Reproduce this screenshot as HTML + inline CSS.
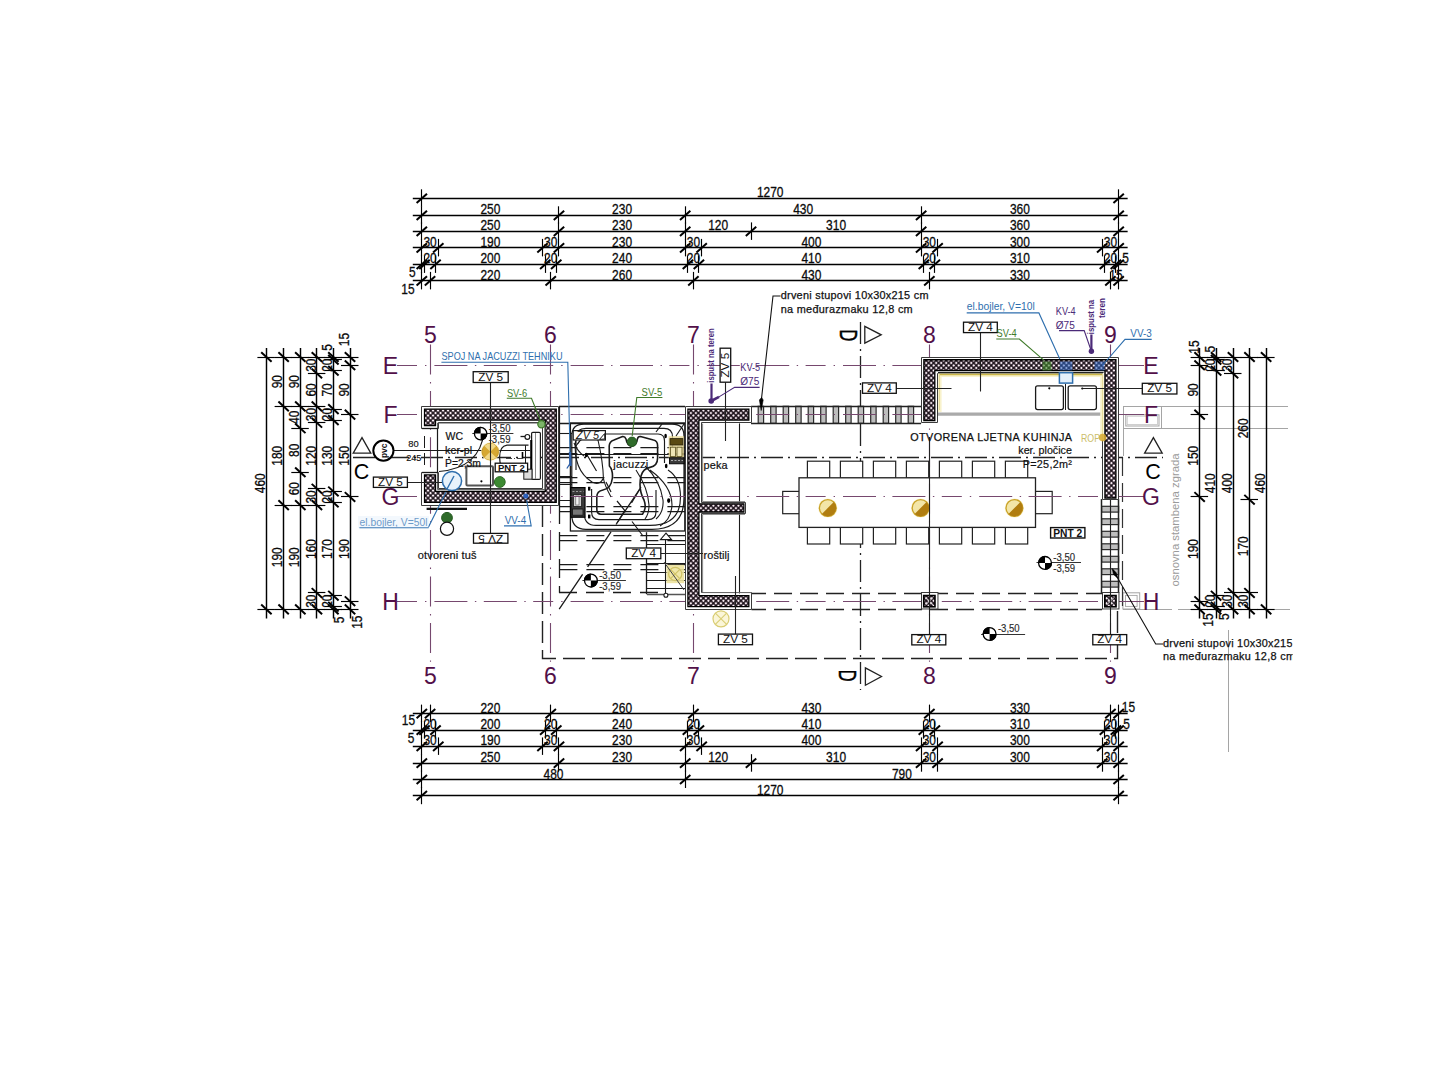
<!DOCTYPE html>
<html lang="hr">
<head>
<meta charset="utf-8">
<title>Tlocrt - otvorena ljetna kuhinja</title>
<style>
html,body{margin:0;padding:0;background:#fff;}
body{width:1440px;height:1080px;overflow:hidden;}
svg{display:block;}
svg text{font-family:"Liberation Sans",sans-serif;}
</style>
</head>
<body>
<svg width="1440" height="1080" viewBox="0 0 1440 1080">
<defs>
<pattern id="hatch" patternUnits="userSpaceOnUse" width="3.54" height="3.54" patternTransform="rotate(45)">
<rect width="3.54" height="3.54" fill="#120810"/>
<rect x="0.7" y="0.7" width="2.15" height="2.15" fill="#fbeef6"/>
</pattern>
<clipPath id="clipR"><rect x="1100" y="620" width="192.6" height="60"/></clipPath>
</defs>
<rect width="1440" height="1080" fill="#ffffff"/>

<g id="neighbour">
<line x1="1123" y1="406.5" x2="1288" y2="406.5" stroke="#a5a5a5" stroke-width="1.0"/>
<line x1="1123" y1="428.5" x2="1288" y2="428.5" stroke="#a5a5a5" stroke-width="1.0"/>
<line x1="1123.5" y1="406.6" x2="1123.5" y2="456" stroke="#a5a5a5" stroke-width="1.0"/>
<line x1="1161.5" y1="406.6" x2="1161.5" y2="428.2" stroke="#a5a5a5" stroke-width="1.0"/>
<rect x="1125.8" y="414.8" width="33.2" height="11.2" fill="none" stroke="#a5a5a5" stroke-width="1.0"/>
<rect x="1127.2" y="416.2" width="30.4" height="8.4" fill="none" stroke="#c4c4c4" stroke-width="0.8"/>
<rect x="1122.9" y="592.8" width="16.8" height="16.2" fill="none" stroke="#a5a5a5" stroke-width="1.0"/>
<rect x="1125.5" y="595.4" width="11.6" height="11" fill="none" stroke="#a5a5a5" stroke-width="0.9"/>
<line x1="1123" y1="609.5" x2="1172" y2="609.5" stroke="#a5a5a5" stroke-width="1.0"/>
<line x1="1178" y1="609.5" x2="1290" y2="609.5" stroke="#a5a5a5" stroke-width="1.0"/>
<line x1="1228.5" y1="630" x2="1228.5" y2="752" stroke="#a5a5a5" stroke-width="1.0"/>
</g>
<g id="dims">
<line x1="412.8" y1="198.5" x2="1127.65" y2="198.5" stroke="#000" stroke-width="1.45"/>
<line x1="421.5" y1="189.3" x2="421.5" y2="206.8" stroke="#000" stroke-width="1.15"/>
<line x1="416.6" y1="202.9" x2="427" y2="193.7" stroke="#000" stroke-width="2.0"/>
<line x1="1118.5" y1="189.3" x2="1118.5" y2="206.8" stroke="#000" stroke-width="1.15"/>
<line x1="1113.45" y1="202.9" x2="1123.85" y2="193.7" stroke="#000" stroke-width="2.0"/>
<text x="770.22" y="197.3" font-size="14.5" fill="#0a0a0a" text-anchor="middle" textLength="26.6" lengthAdjust="spacingAndGlyphs" stroke="#0a0a0a" stroke-width="0.3">1270</text>
<line x1="412.8" y1="215.5" x2="1127.65" y2="215.5" stroke="#000" stroke-width="1.45"/>
<line x1="421.5" y1="206.3" x2="421.5" y2="223.8" stroke="#000" stroke-width="1.15"/>
<line x1="416.6" y1="219.9" x2="427" y2="210.7" stroke="#000" stroke-width="2.0"/>
<line x1="558.5" y1="206.3" x2="558.5" y2="223.8" stroke="#000" stroke-width="1.15"/>
<line x1="553.77" y1="219.9" x2="564.18" y2="210.7" stroke="#000" stroke-width="2.0"/>
<line x1="685.5" y1="206.3" x2="685.5" y2="223.8" stroke="#000" stroke-width="1.15"/>
<line x1="679.98" y1="219.9" x2="690.38" y2="210.7" stroke="#000" stroke-width="2.0"/>
<line x1="921.5" y1="206.3" x2="921.5" y2="223.8" stroke="#000" stroke-width="1.15"/>
<line x1="915.92" y1="219.9" x2="926.32" y2="210.7" stroke="#000" stroke-width="2.0"/>
<line x1="1118.5" y1="206.3" x2="1118.5" y2="223.8" stroke="#000" stroke-width="1.15"/>
<line x1="1113.45" y1="219.9" x2="1123.85" y2="210.7" stroke="#000" stroke-width="2.0"/>
<text x="490.39" y="214.3" font-size="14.5" fill="#0a0a0a" text-anchor="middle" textLength="19.95" lengthAdjust="spacingAndGlyphs" stroke="#0a0a0a" stroke-width="0.3">250</text>
<text x="622.08" y="214.3" font-size="14.5" fill="#0a0a0a" text-anchor="middle" textLength="19.95" lengthAdjust="spacingAndGlyphs" stroke="#0a0a0a" stroke-width="0.3">230</text>
<text x="803.15" y="214.3" font-size="14.5" fill="#0a0a0a" text-anchor="middle" textLength="19.95" lengthAdjust="spacingAndGlyphs" stroke="#0a0a0a" stroke-width="0.3">430</text>
<text x="1019.88" y="214.3" font-size="14.5" fill="#0a0a0a" text-anchor="middle" textLength="19.95" lengthAdjust="spacingAndGlyphs" stroke="#0a0a0a" stroke-width="0.3">360</text>
<line x1="412.8" y1="231.5" x2="1127.65" y2="231.5" stroke="#000" stroke-width="1.45"/>
<line x1="421.5" y1="222.4" x2="421.5" y2="239.9" stroke="#000" stroke-width="1.15"/>
<line x1="416.6" y1="236" x2="427" y2="226.8" stroke="#000" stroke-width="2.0"/>
<line x1="558.5" y1="222.4" x2="558.5" y2="239.9" stroke="#000" stroke-width="1.15"/>
<line x1="553.77" y1="236" x2="564.18" y2="226.8" stroke="#000" stroke-width="2.0"/>
<line x1="685.5" y1="222.4" x2="685.5" y2="239.9" stroke="#000" stroke-width="1.15"/>
<line x1="679.98" y1="236" x2="690.38" y2="226.8" stroke="#000" stroke-width="2.0"/>
<line x1="751.5" y1="222.4" x2="751.5" y2="239.9" stroke="#000" stroke-width="1.15"/>
<line x1="745.82" y1="236" x2="756.22" y2="226.8" stroke="#000" stroke-width="2.0"/>
<line x1="921.5" y1="222.4" x2="921.5" y2="239.9" stroke="#000" stroke-width="1.15"/>
<line x1="915.92" y1="236" x2="926.32" y2="226.8" stroke="#000" stroke-width="2.0"/>
<line x1="1118.5" y1="222.4" x2="1118.5" y2="239.9" stroke="#000" stroke-width="1.15"/>
<line x1="1113.45" y1="236" x2="1123.85" y2="226.8" stroke="#000" stroke-width="2.0"/>
<text x="490.39" y="230.4" font-size="14.5" fill="#0a0a0a" text-anchor="middle" textLength="19.95" lengthAdjust="spacingAndGlyphs" stroke="#0a0a0a" stroke-width="0.3">250</text>
<text x="622.08" y="230.4" font-size="14.5" fill="#0a0a0a" text-anchor="middle" textLength="19.95" lengthAdjust="spacingAndGlyphs" stroke="#0a0a0a" stroke-width="0.3">230</text>
<text x="718.1" y="230.4" font-size="14.5" fill="#0a0a0a" text-anchor="middle" textLength="19.95" lengthAdjust="spacingAndGlyphs" stroke="#0a0a0a" stroke-width="0.3">120</text>
<text x="836.07" y="230.4" font-size="14.5" fill="#0a0a0a" text-anchor="middle" textLength="19.95" lengthAdjust="spacingAndGlyphs" stroke="#0a0a0a" stroke-width="0.3">310</text>
<text x="1019.88" y="230.4" font-size="14.5" fill="#0a0a0a" text-anchor="middle" textLength="19.95" lengthAdjust="spacingAndGlyphs" stroke="#0a0a0a" stroke-width="0.3">360</text>
<line x1="412.8" y1="247.5" x2="1127.65" y2="247.5" stroke="#000" stroke-width="1.45"/>
<line x1="421.5" y1="238.9" x2="421.5" y2="256.4" stroke="#000" stroke-width="1.15"/>
<line x1="416.6" y1="252.5" x2="427" y2="243.3" stroke="#000" stroke-width="2.0"/>
<line x1="438.5" y1="238.9" x2="438.5" y2="256.4" stroke="#000" stroke-width="1.15"/>
<line x1="433.06" y1="252.5" x2="443.46" y2="243.3" stroke="#000" stroke-width="2.0"/>
<line x1="542.5" y1="238.9" x2="542.5" y2="256.4" stroke="#000" stroke-width="1.15"/>
<line x1="537.31" y1="252.5" x2="547.71" y2="243.3" stroke="#000" stroke-width="2.0"/>
<line x1="558.5" y1="238.9" x2="558.5" y2="256.4" stroke="#000" stroke-width="1.15"/>
<line x1="553.77" y1="252.5" x2="564.18" y2="243.3" stroke="#000" stroke-width="2.0"/>
<line x1="685.5" y1="238.9" x2="685.5" y2="256.4" stroke="#000" stroke-width="1.15"/>
<line x1="679.98" y1="252.5" x2="690.38" y2="243.3" stroke="#000" stroke-width="2.0"/>
<line x1="701.5" y1="238.9" x2="701.5" y2="256.4" stroke="#000" stroke-width="1.15"/>
<line x1="696.44" y1="252.5" x2="706.84" y2="243.3" stroke="#000" stroke-width="2.0"/>
<line x1="921.5" y1="238.9" x2="921.5" y2="256.4" stroke="#000" stroke-width="1.15"/>
<line x1="915.92" y1="252.5" x2="926.32" y2="243.3" stroke="#000" stroke-width="2.0"/>
<line x1="937.5" y1="238.9" x2="937.5" y2="256.4" stroke="#000" stroke-width="1.15"/>
<line x1="932.38" y1="252.5" x2="942.78" y2="243.3" stroke="#000" stroke-width="2.0"/>
<line x1="1102.5" y1="238.9" x2="1102.5" y2="256.4" stroke="#000" stroke-width="1.15"/>
<line x1="1096.99" y1="252.5" x2="1107.39" y2="243.3" stroke="#000" stroke-width="2.0"/>
<line x1="1118.5" y1="238.9" x2="1118.5" y2="256.4" stroke="#000" stroke-width="1.15"/>
<line x1="1113.45" y1="252.5" x2="1123.85" y2="243.3" stroke="#000" stroke-width="2.0"/>
<text x="430.03" y="246.9" font-size="14.5" fill="#0a0a0a" text-anchor="middle" textLength="13.3" lengthAdjust="spacingAndGlyphs" stroke="#0a0a0a" stroke-width="0.3">30</text>
<text x="490.39" y="246.9" font-size="14.5" fill="#0a0a0a" text-anchor="middle" textLength="19.95" lengthAdjust="spacingAndGlyphs" stroke="#0a0a0a" stroke-width="0.3">190</text>
<text x="550.74" y="246.9" font-size="14.5" fill="#0a0a0a" text-anchor="middle" textLength="13.3" lengthAdjust="spacingAndGlyphs" stroke="#0a0a0a" stroke-width="0.3">30</text>
<text x="622.08" y="246.9" font-size="14.5" fill="#0a0a0a" text-anchor="middle" textLength="19.95" lengthAdjust="spacingAndGlyphs" stroke="#0a0a0a" stroke-width="0.3">230</text>
<text x="693.41" y="246.9" font-size="14.5" fill="#0a0a0a" text-anchor="middle" textLength="13.3" lengthAdjust="spacingAndGlyphs" stroke="#0a0a0a" stroke-width="0.3">30</text>
<text x="811.38" y="246.9" font-size="14.5" fill="#0a0a0a" text-anchor="middle" textLength="19.95" lengthAdjust="spacingAndGlyphs" stroke="#0a0a0a" stroke-width="0.3">400</text>
<text x="929.35" y="246.9" font-size="14.5" fill="#0a0a0a" text-anchor="middle" textLength="13.3" lengthAdjust="spacingAndGlyphs" stroke="#0a0a0a" stroke-width="0.3">30</text>
<text x="1019.88" y="246.9" font-size="14.5" fill="#0a0a0a" text-anchor="middle" textLength="19.95" lengthAdjust="spacingAndGlyphs" stroke="#0a0a0a" stroke-width="0.3">300</text>
<text x="1110.42" y="246.9" font-size="14.5" fill="#0a0a0a" text-anchor="middle" textLength="13.3" lengthAdjust="spacingAndGlyphs" stroke="#0a0a0a" stroke-width="0.3">30</text>
<line x1="412.8" y1="264.5" x2="1127.65" y2="264.5" stroke="#000" stroke-width="1.45"/>
<line x1="421.5" y1="255.4" x2="421.5" y2="272.9" stroke="#000" stroke-width="1.15"/>
<line x1="416.6" y1="269" x2="427" y2="259.8" stroke="#000" stroke-width="2.0"/>
<line x1="424.5" y1="255.4" x2="424.5" y2="272.9" stroke="#000" stroke-width="1.15"/>
<line x1="419.34" y1="269" x2="429.74" y2="259.8" stroke="#000" stroke-width="2.0"/>
<line x1="435.5" y1="255.4" x2="435.5" y2="272.9" stroke="#000" stroke-width="1.15"/>
<line x1="430.32" y1="269" x2="440.72" y2="259.8" stroke="#000" stroke-width="2.0"/>
<line x1="545.5" y1="255.4" x2="545.5" y2="272.9" stroke="#000" stroke-width="1.15"/>
<line x1="540.06" y1="269" x2="550.46" y2="259.8" stroke="#000" stroke-width="2.0"/>
<line x1="556.5" y1="255.4" x2="556.5" y2="272.9" stroke="#000" stroke-width="1.15"/>
<line x1="551.03" y1="269" x2="561.43" y2="259.8" stroke="#000" stroke-width="2.0"/>
<line x1="687.5" y1="255.4" x2="687.5" y2="272.9" stroke="#000" stroke-width="1.15"/>
<line x1="682.72" y1="269" x2="693.12" y2="259.8" stroke="#000" stroke-width="2.0"/>
<line x1="698.5" y1="255.4" x2="698.5" y2="272.9" stroke="#000" stroke-width="1.15"/>
<line x1="693.69" y1="269" x2="704.09" y2="259.8" stroke="#000" stroke-width="2.0"/>
<line x1="923.5" y1="255.4" x2="923.5" y2="272.9" stroke="#000" stroke-width="1.15"/>
<line x1="918.66" y1="269" x2="929.06" y2="259.8" stroke="#000" stroke-width="2.0"/>
<line x1="934.5" y1="255.4" x2="934.5" y2="272.9" stroke="#000" stroke-width="1.15"/>
<line x1="929.63" y1="269" x2="940.03" y2="259.8" stroke="#000" stroke-width="2.0"/>
<line x1="1104.5" y1="255.4" x2="1104.5" y2="272.9" stroke="#000" stroke-width="1.15"/>
<line x1="1099.73" y1="269" x2="1110.13" y2="259.8" stroke="#000" stroke-width="2.0"/>
<line x1="1115.5" y1="255.4" x2="1115.5" y2="272.9" stroke="#000" stroke-width="1.15"/>
<line x1="1110.71" y1="269" x2="1121.11" y2="259.8" stroke="#000" stroke-width="2.0"/>
<line x1="1118.5" y1="255.4" x2="1118.5" y2="272.9" stroke="#000" stroke-width="1.15"/>
<line x1="1113.45" y1="269" x2="1123.85" y2="259.8" stroke="#000" stroke-width="2.0"/>
<text x="412.3" y="276.8" font-size="14.5" fill="#0a0a0a" text-anchor="middle" textLength="6.65" lengthAdjust="spacingAndGlyphs" stroke="#0a0a0a" stroke-width="0.3">5</text>
<text x="430.03" y="263.4" font-size="14.5" fill="#0a0a0a" text-anchor="middle" textLength="13.3" lengthAdjust="spacingAndGlyphs" stroke="#0a0a0a" stroke-width="0.3">20</text>
<text x="490.39" y="263.4" font-size="14.5" fill="#0a0a0a" text-anchor="middle" textLength="19.95" lengthAdjust="spacingAndGlyphs" stroke="#0a0a0a" stroke-width="0.3">200</text>
<text x="550.74" y="263.4" font-size="14.5" fill="#0a0a0a" text-anchor="middle" textLength="13.3" lengthAdjust="spacingAndGlyphs" stroke="#0a0a0a" stroke-width="0.3">20</text>
<text x="622.08" y="263.4" font-size="14.5" fill="#0a0a0a" text-anchor="middle" textLength="19.95" lengthAdjust="spacingAndGlyphs" stroke="#0a0a0a" stroke-width="0.3">240</text>
<text x="693.41" y="263.4" font-size="14.5" fill="#0a0a0a" text-anchor="middle" textLength="13.3" lengthAdjust="spacingAndGlyphs" stroke="#0a0a0a" stroke-width="0.3">20</text>
<text x="811.38" y="263.4" font-size="14.5" fill="#0a0a0a" text-anchor="middle" textLength="19.95" lengthAdjust="spacingAndGlyphs" stroke="#0a0a0a" stroke-width="0.3">410</text>
<text x="929.35" y="263.4" font-size="14.5" fill="#0a0a0a" text-anchor="middle" textLength="13.3" lengthAdjust="spacingAndGlyphs" stroke="#0a0a0a" stroke-width="0.3">20</text>
<text x="1019.88" y="263.4" font-size="14.5" fill="#0a0a0a" text-anchor="middle" textLength="19.95" lengthAdjust="spacingAndGlyphs" stroke="#0a0a0a" stroke-width="0.3">310</text>
<text x="1110.42" y="263.4" font-size="14.5" fill="#0a0a0a" text-anchor="middle" textLength="13.3" lengthAdjust="spacingAndGlyphs" stroke="#0a0a0a" stroke-width="0.3">20</text>
<text x="1125.5" y="262.8" font-size="14.5" fill="#0a0a0a" text-anchor="middle" textLength="6.65" lengthAdjust="spacingAndGlyphs" stroke="#0a0a0a" stroke-width="0.3">5</text>
<line x1="412.8" y1="280.5" x2="1127.65" y2="280.5" stroke="#000" stroke-width="1.45"/>
<line x1="421.5" y1="271.9" x2="421.5" y2="289.4" stroke="#000" stroke-width="1.15"/>
<line x1="416.6" y1="285.5" x2="427" y2="276.3" stroke="#000" stroke-width="2.0"/>
<line x1="430.5" y1="271.9" x2="430.5" y2="289.4" stroke="#000" stroke-width="1.15"/>
<line x1="424.83" y1="285.5" x2="435.23" y2="276.3" stroke="#000" stroke-width="2.0"/>
<line x1="550.5" y1="271.9" x2="550.5" y2="289.4" stroke="#000" stroke-width="1.15"/>
<line x1="545.54" y1="285.5" x2="555.94" y2="276.3" stroke="#000" stroke-width="2.0"/>
<line x1="693.5" y1="271.9" x2="693.5" y2="289.4" stroke="#000" stroke-width="1.15"/>
<line x1="688.21" y1="285.5" x2="698.61" y2="276.3" stroke="#000" stroke-width="2.0"/>
<line x1="929.5" y1="271.9" x2="929.5" y2="289.4" stroke="#000" stroke-width="1.15"/>
<line x1="924.15" y1="285.5" x2="934.55" y2="276.3" stroke="#000" stroke-width="2.0"/>
<line x1="1110.5" y1="271.9" x2="1110.5" y2="289.4" stroke="#000" stroke-width="1.15"/>
<line x1="1105.22" y1="285.5" x2="1115.62" y2="276.3" stroke="#000" stroke-width="2.0"/>
<line x1="1118.5" y1="271.9" x2="1118.5" y2="289.4" stroke="#000" stroke-width="1.15"/>
<line x1="1113.45" y1="285.5" x2="1123.85" y2="276.3" stroke="#000" stroke-width="2.0"/>
<text x="408" y="293.9" font-size="14.5" fill="#0a0a0a" text-anchor="middle" textLength="13.3" lengthAdjust="spacingAndGlyphs" stroke="#0a0a0a" stroke-width="0.3">15</text>
<text x="490.39" y="279.9" font-size="14.5" fill="#0a0a0a" text-anchor="middle" textLength="19.95" lengthAdjust="spacingAndGlyphs" stroke="#0a0a0a" stroke-width="0.3">220</text>
<text x="622.08" y="279.9" font-size="14.5" fill="#0a0a0a" text-anchor="middle" textLength="19.95" lengthAdjust="spacingAndGlyphs" stroke="#0a0a0a" stroke-width="0.3">260</text>
<text x="811.38" y="279.9" font-size="14.5" fill="#0a0a0a" text-anchor="middle" textLength="19.95" lengthAdjust="spacingAndGlyphs" stroke="#0a0a0a" stroke-width="0.3">430</text>
<text x="1019.88" y="279.9" font-size="14.5" fill="#0a0a0a" text-anchor="middle" textLength="19.95" lengthAdjust="spacingAndGlyphs" stroke="#0a0a0a" stroke-width="0.3">330</text>
<text x="1116" y="279.9" font-size="14.5" fill="#0a0a0a" text-anchor="middle" textLength="13.3" lengthAdjust="spacingAndGlyphs" stroke="#0a0a0a" stroke-width="0.3">15</text>
<line x1="412.8" y1="713.5" x2="1127.65" y2="713.5" stroke="#000" stroke-width="1.45"/>
<line x1="421.5" y1="704.6" x2="421.5" y2="722.1" stroke="#000" stroke-width="1.15"/>
<line x1="416.6" y1="718.2" x2="427" y2="709" stroke="#000" stroke-width="2.0"/>
<line x1="430.5" y1="704.6" x2="430.5" y2="722.1" stroke="#000" stroke-width="1.15"/>
<line x1="424.83" y1="718.2" x2="435.23" y2="709" stroke="#000" stroke-width="2.0"/>
<line x1="550.5" y1="704.6" x2="550.5" y2="722.1" stroke="#000" stroke-width="1.15"/>
<line x1="545.54" y1="718.2" x2="555.94" y2="709" stroke="#000" stroke-width="2.0"/>
<line x1="693.5" y1="704.6" x2="693.5" y2="722.1" stroke="#000" stroke-width="1.15"/>
<line x1="688.21" y1="718.2" x2="698.61" y2="709" stroke="#000" stroke-width="2.0"/>
<line x1="929.5" y1="704.6" x2="929.5" y2="722.1" stroke="#000" stroke-width="1.15"/>
<line x1="924.15" y1="718.2" x2="934.55" y2="709" stroke="#000" stroke-width="2.0"/>
<line x1="1110.5" y1="704.6" x2="1110.5" y2="722.1" stroke="#000" stroke-width="1.15"/>
<line x1="1105.22" y1="718.2" x2="1115.62" y2="709" stroke="#000" stroke-width="2.0"/>
<line x1="1118.5" y1="704.6" x2="1118.5" y2="722.1" stroke="#000" stroke-width="1.15"/>
<line x1="1113.45" y1="718.2" x2="1123.85" y2="709" stroke="#000" stroke-width="2.0"/>
<text x="408.5" y="725.2" font-size="14.5" fill="#0a0a0a" text-anchor="middle" textLength="13.3" lengthAdjust="spacingAndGlyphs" stroke="#0a0a0a" stroke-width="0.3">15</text>
<text x="490.39" y="712.6" font-size="14.5" fill="#0a0a0a" text-anchor="middle" textLength="19.95" lengthAdjust="spacingAndGlyphs" stroke="#0a0a0a" stroke-width="0.3">220</text>
<text x="622.08" y="712.6" font-size="14.5" fill="#0a0a0a" text-anchor="middle" textLength="19.95" lengthAdjust="spacingAndGlyphs" stroke="#0a0a0a" stroke-width="0.3">260</text>
<text x="811.38" y="712.6" font-size="14.5" fill="#0a0a0a" text-anchor="middle" textLength="19.95" lengthAdjust="spacingAndGlyphs" stroke="#0a0a0a" stroke-width="0.3">430</text>
<text x="1019.88" y="712.6" font-size="14.5" fill="#0a0a0a" text-anchor="middle" textLength="19.95" lengthAdjust="spacingAndGlyphs" stroke="#0a0a0a" stroke-width="0.3">330</text>
<text x="1128.5" y="712" font-size="14.5" fill="#0a0a0a" text-anchor="middle" textLength="13.3" lengthAdjust="spacingAndGlyphs" stroke="#0a0a0a" stroke-width="0.3">15</text>
<line x1="412.8" y1="730.5" x2="1127.65" y2="730.5" stroke="#000" stroke-width="1.45"/>
<line x1="421.5" y1="721.2" x2="421.5" y2="738.7" stroke="#000" stroke-width="1.15"/>
<line x1="416.6" y1="734.8" x2="427" y2="725.6" stroke="#000" stroke-width="2.0"/>
<line x1="424.5" y1="721.2" x2="424.5" y2="738.7" stroke="#000" stroke-width="1.15"/>
<line x1="419.34" y1="734.8" x2="429.74" y2="725.6" stroke="#000" stroke-width="2.0"/>
<line x1="435.5" y1="721.2" x2="435.5" y2="738.7" stroke="#000" stroke-width="1.15"/>
<line x1="430.32" y1="734.8" x2="440.72" y2="725.6" stroke="#000" stroke-width="2.0"/>
<line x1="545.5" y1="721.2" x2="545.5" y2="738.7" stroke="#000" stroke-width="1.15"/>
<line x1="540.06" y1="734.8" x2="550.46" y2="725.6" stroke="#000" stroke-width="2.0"/>
<line x1="556.5" y1="721.2" x2="556.5" y2="738.7" stroke="#000" stroke-width="1.15"/>
<line x1="551.03" y1="734.8" x2="561.43" y2="725.6" stroke="#000" stroke-width="2.0"/>
<line x1="687.5" y1="721.2" x2="687.5" y2="738.7" stroke="#000" stroke-width="1.15"/>
<line x1="682.72" y1="734.8" x2="693.12" y2="725.6" stroke="#000" stroke-width="2.0"/>
<line x1="698.5" y1="721.2" x2="698.5" y2="738.7" stroke="#000" stroke-width="1.15"/>
<line x1="693.69" y1="734.8" x2="704.09" y2="725.6" stroke="#000" stroke-width="2.0"/>
<line x1="923.5" y1="721.2" x2="923.5" y2="738.7" stroke="#000" stroke-width="1.15"/>
<line x1="918.66" y1="734.8" x2="929.06" y2="725.6" stroke="#000" stroke-width="2.0"/>
<line x1="934.5" y1="721.2" x2="934.5" y2="738.7" stroke="#000" stroke-width="1.15"/>
<line x1="929.63" y1="734.8" x2="940.03" y2="725.6" stroke="#000" stroke-width="2.0"/>
<line x1="1104.5" y1="721.2" x2="1104.5" y2="738.7" stroke="#000" stroke-width="1.15"/>
<line x1="1099.73" y1="734.8" x2="1110.13" y2="725.6" stroke="#000" stroke-width="2.0"/>
<line x1="1115.5" y1="721.2" x2="1115.5" y2="738.7" stroke="#000" stroke-width="1.15"/>
<line x1="1110.71" y1="734.8" x2="1121.11" y2="725.6" stroke="#000" stroke-width="2.0"/>
<line x1="1118.5" y1="721.2" x2="1118.5" y2="738.7" stroke="#000" stroke-width="1.15"/>
<line x1="1113.45" y1="734.8" x2="1123.85" y2="725.6" stroke="#000" stroke-width="2.0"/>
<text x="411" y="743" font-size="14.5" fill="#0a0a0a" text-anchor="middle" textLength="6.65" lengthAdjust="spacingAndGlyphs" stroke="#0a0a0a" stroke-width="0.3">5</text>
<text x="430.03" y="729.2" font-size="14.5" fill="#0a0a0a" text-anchor="middle" textLength="13.3" lengthAdjust="spacingAndGlyphs" stroke="#0a0a0a" stroke-width="0.3">20</text>
<text x="490.39" y="729.2" font-size="14.5" fill="#0a0a0a" text-anchor="middle" textLength="19.95" lengthAdjust="spacingAndGlyphs" stroke="#0a0a0a" stroke-width="0.3">200</text>
<text x="550.74" y="729.2" font-size="14.5" fill="#0a0a0a" text-anchor="middle" textLength="13.3" lengthAdjust="spacingAndGlyphs" stroke="#0a0a0a" stroke-width="0.3">20</text>
<text x="622.08" y="729.2" font-size="14.5" fill="#0a0a0a" text-anchor="middle" textLength="19.95" lengthAdjust="spacingAndGlyphs" stroke="#0a0a0a" stroke-width="0.3">240</text>
<text x="693.41" y="729.2" font-size="14.5" fill="#0a0a0a" text-anchor="middle" textLength="13.3" lengthAdjust="spacingAndGlyphs" stroke="#0a0a0a" stroke-width="0.3">20</text>
<text x="811.38" y="729.2" font-size="14.5" fill="#0a0a0a" text-anchor="middle" textLength="19.95" lengthAdjust="spacingAndGlyphs" stroke="#0a0a0a" stroke-width="0.3">410</text>
<text x="929.35" y="729.2" font-size="14.5" fill="#0a0a0a" text-anchor="middle" textLength="13.3" lengthAdjust="spacingAndGlyphs" stroke="#0a0a0a" stroke-width="0.3">20</text>
<text x="1019.88" y="729.2" font-size="14.5" fill="#0a0a0a" text-anchor="middle" textLength="19.95" lengthAdjust="spacingAndGlyphs" stroke="#0a0a0a" stroke-width="0.3">310</text>
<text x="1110.42" y="729.2" font-size="14.5" fill="#0a0a0a" text-anchor="middle" textLength="13.3" lengthAdjust="spacingAndGlyphs" stroke="#0a0a0a" stroke-width="0.3">20</text>
<text x="1126.5" y="728.6" font-size="14.5" fill="#0a0a0a" text-anchor="middle" textLength="6.65" lengthAdjust="spacingAndGlyphs" stroke="#0a0a0a" stroke-width="0.3">5</text>
<line x1="412.8" y1="746.5" x2="1127.65" y2="746.5" stroke="#000" stroke-width="1.45"/>
<line x1="421.5" y1="737.4" x2="421.5" y2="754.9" stroke="#000" stroke-width="1.15"/>
<line x1="416.6" y1="751" x2="427" y2="741.8" stroke="#000" stroke-width="2.0"/>
<line x1="438.5" y1="737.4" x2="438.5" y2="754.9" stroke="#000" stroke-width="1.15"/>
<line x1="433.06" y1="751" x2="443.46" y2="741.8" stroke="#000" stroke-width="2.0"/>
<line x1="542.5" y1="737.4" x2="542.5" y2="754.9" stroke="#000" stroke-width="1.15"/>
<line x1="537.31" y1="751" x2="547.71" y2="741.8" stroke="#000" stroke-width="2.0"/>
<line x1="558.5" y1="737.4" x2="558.5" y2="754.9" stroke="#000" stroke-width="1.15"/>
<line x1="553.77" y1="751" x2="564.18" y2="741.8" stroke="#000" stroke-width="2.0"/>
<line x1="685.5" y1="737.4" x2="685.5" y2="754.9" stroke="#000" stroke-width="1.15"/>
<line x1="679.98" y1="751" x2="690.38" y2="741.8" stroke="#000" stroke-width="2.0"/>
<line x1="701.5" y1="737.4" x2="701.5" y2="754.9" stroke="#000" stroke-width="1.15"/>
<line x1="696.44" y1="751" x2="706.84" y2="741.8" stroke="#000" stroke-width="2.0"/>
<line x1="921.5" y1="737.4" x2="921.5" y2="754.9" stroke="#000" stroke-width="1.15"/>
<line x1="915.92" y1="751" x2="926.32" y2="741.8" stroke="#000" stroke-width="2.0"/>
<line x1="937.5" y1="737.4" x2="937.5" y2="754.9" stroke="#000" stroke-width="1.15"/>
<line x1="932.38" y1="751" x2="942.78" y2="741.8" stroke="#000" stroke-width="2.0"/>
<line x1="1102.5" y1="737.4" x2="1102.5" y2="754.9" stroke="#000" stroke-width="1.15"/>
<line x1="1096.99" y1="751" x2="1107.39" y2="741.8" stroke="#000" stroke-width="2.0"/>
<line x1="1118.5" y1="737.4" x2="1118.5" y2="754.9" stroke="#000" stroke-width="1.15"/>
<line x1="1113.45" y1="751" x2="1123.85" y2="741.8" stroke="#000" stroke-width="2.0"/>
<text x="430.03" y="745.4" font-size="14.5" fill="#0a0a0a" text-anchor="middle" textLength="13.3" lengthAdjust="spacingAndGlyphs" stroke="#0a0a0a" stroke-width="0.3">30</text>
<text x="490.39" y="745.4" font-size="14.5" fill="#0a0a0a" text-anchor="middle" textLength="19.95" lengthAdjust="spacingAndGlyphs" stroke="#0a0a0a" stroke-width="0.3">190</text>
<text x="550.74" y="745.4" font-size="14.5" fill="#0a0a0a" text-anchor="middle" textLength="13.3" lengthAdjust="spacingAndGlyphs" stroke="#0a0a0a" stroke-width="0.3">30</text>
<text x="622.08" y="745.4" font-size="14.5" fill="#0a0a0a" text-anchor="middle" textLength="19.95" lengthAdjust="spacingAndGlyphs" stroke="#0a0a0a" stroke-width="0.3">230</text>
<text x="693.41" y="745.4" font-size="14.5" fill="#0a0a0a" text-anchor="middle" textLength="13.3" lengthAdjust="spacingAndGlyphs" stroke="#0a0a0a" stroke-width="0.3">30</text>
<text x="811.38" y="745.4" font-size="14.5" fill="#0a0a0a" text-anchor="middle" textLength="19.95" lengthAdjust="spacingAndGlyphs" stroke="#0a0a0a" stroke-width="0.3">400</text>
<text x="929.35" y="745.4" font-size="14.5" fill="#0a0a0a" text-anchor="middle" textLength="13.3" lengthAdjust="spacingAndGlyphs" stroke="#0a0a0a" stroke-width="0.3">30</text>
<text x="1019.88" y="745.4" font-size="14.5" fill="#0a0a0a" text-anchor="middle" textLength="19.95" lengthAdjust="spacingAndGlyphs" stroke="#0a0a0a" stroke-width="0.3">300</text>
<text x="1110.42" y="745.4" font-size="14.5" fill="#0a0a0a" text-anchor="middle" textLength="13.3" lengthAdjust="spacingAndGlyphs" stroke="#0a0a0a" stroke-width="0.3">30</text>
<line x1="412.8" y1="763.5" x2="1127.65" y2="763.5" stroke="#000" stroke-width="1.45"/>
<line x1="421.5" y1="754.2" x2="421.5" y2="771.7" stroke="#000" stroke-width="1.15"/>
<line x1="416.6" y1="767.8" x2="427" y2="758.6" stroke="#000" stroke-width="2.0"/>
<line x1="558.5" y1="754.2" x2="558.5" y2="771.7" stroke="#000" stroke-width="1.15"/>
<line x1="553.77" y1="767.8" x2="564.18" y2="758.6" stroke="#000" stroke-width="2.0"/>
<line x1="685.5" y1="754.2" x2="685.5" y2="771.7" stroke="#000" stroke-width="1.15"/>
<line x1="679.98" y1="767.8" x2="690.38" y2="758.6" stroke="#000" stroke-width="2.0"/>
<line x1="751.5" y1="754.2" x2="751.5" y2="771.7" stroke="#000" stroke-width="1.15"/>
<line x1="745.82" y1="767.8" x2="756.22" y2="758.6" stroke="#000" stroke-width="2.0"/>
<line x1="921.5" y1="754.2" x2="921.5" y2="771.7" stroke="#000" stroke-width="1.15"/>
<line x1="915.92" y1="767.8" x2="926.32" y2="758.6" stroke="#000" stroke-width="2.0"/>
<line x1="937.5" y1="754.2" x2="937.5" y2="771.7" stroke="#000" stroke-width="1.15"/>
<line x1="932.38" y1="767.8" x2="942.78" y2="758.6" stroke="#000" stroke-width="2.0"/>
<line x1="1102.5" y1="754.2" x2="1102.5" y2="771.7" stroke="#000" stroke-width="1.15"/>
<line x1="1096.99" y1="767.8" x2="1107.39" y2="758.6" stroke="#000" stroke-width="2.0"/>
<line x1="1118.5" y1="754.2" x2="1118.5" y2="771.7" stroke="#000" stroke-width="1.15"/>
<line x1="1113.45" y1="767.8" x2="1123.85" y2="758.6" stroke="#000" stroke-width="2.0"/>
<text x="490.39" y="762.2" font-size="14.5" fill="#0a0a0a" text-anchor="middle" textLength="19.95" lengthAdjust="spacingAndGlyphs" stroke="#0a0a0a" stroke-width="0.3">250</text>
<text x="622.08" y="762.2" font-size="14.5" fill="#0a0a0a" text-anchor="middle" textLength="19.95" lengthAdjust="spacingAndGlyphs" stroke="#0a0a0a" stroke-width="0.3">230</text>
<text x="718.1" y="762.2" font-size="14.5" fill="#0a0a0a" text-anchor="middle" textLength="19.95" lengthAdjust="spacingAndGlyphs" stroke="#0a0a0a" stroke-width="0.3">120</text>
<text x="836.07" y="762.2" font-size="14.5" fill="#0a0a0a" text-anchor="middle" textLength="19.95" lengthAdjust="spacingAndGlyphs" stroke="#0a0a0a" stroke-width="0.3">310</text>
<text x="929.35" y="762.2" font-size="14.5" fill="#0a0a0a" text-anchor="middle" textLength="13.3" lengthAdjust="spacingAndGlyphs" stroke="#0a0a0a" stroke-width="0.3">30</text>
<text x="1019.88" y="762.2" font-size="14.5" fill="#0a0a0a" text-anchor="middle" textLength="19.95" lengthAdjust="spacingAndGlyphs" stroke="#0a0a0a" stroke-width="0.3">300</text>
<text x="1110.42" y="762.2" font-size="14.5" fill="#0a0a0a" text-anchor="middle" textLength="13.3" lengthAdjust="spacingAndGlyphs" stroke="#0a0a0a" stroke-width="0.3">30</text>
<line x1="412.8" y1="779.5" x2="1127.65" y2="779.5" stroke="#000" stroke-width="1.45"/>
<line x1="421.5" y1="770.5" x2="421.5" y2="788" stroke="#000" stroke-width="1.15"/>
<line x1="416.6" y1="784.1" x2="427" y2="774.9" stroke="#000" stroke-width="2.0"/>
<line x1="685.5" y1="770.5" x2="685.5" y2="788" stroke="#000" stroke-width="1.15"/>
<line x1="679.98" y1="784.1" x2="690.38" y2="774.9" stroke="#000" stroke-width="2.0"/>
<line x1="1118.5" y1="770.5" x2="1118.5" y2="788" stroke="#000" stroke-width="1.15"/>
<line x1="1113.45" y1="784.1" x2="1123.85" y2="774.9" stroke="#000" stroke-width="2.0"/>
<text x="553.49" y="778.5" font-size="14.5" fill="#0a0a0a" text-anchor="middle" textLength="19.95" lengthAdjust="spacingAndGlyphs" stroke="#0a0a0a" stroke-width="0.3">480</text>
<text x="901.91" y="778.5" font-size="14.5" fill="#0a0a0a" text-anchor="middle" textLength="19.95" lengthAdjust="spacingAndGlyphs" stroke="#0a0a0a" stroke-width="0.3">790</text>
<line x1="412.8" y1="795.5" x2="1127.65" y2="795.5" stroke="#000" stroke-width="1.45"/>
<line x1="421.5" y1="786.7" x2="421.5" y2="804.2" stroke="#000" stroke-width="1.15"/>
<line x1="416.6" y1="800.3" x2="427" y2="791.1" stroke="#000" stroke-width="2.0"/>
<line x1="1118.5" y1="786.7" x2="1118.5" y2="804.2" stroke="#000" stroke-width="1.15"/>
<line x1="1113.45" y1="800.3" x2="1123.85" y2="791.1" stroke="#000" stroke-width="2.0"/>
<text x="770.22" y="794.7" font-size="14.5" fill="#0a0a0a" text-anchor="middle" textLength="26.6" lengthAdjust="spacingAndGlyphs" stroke="#0a0a0a" stroke-width="0.3">1270</text>
<line x1="266.5" y1="348" x2="266.5" y2="618.4" stroke="#000" stroke-width="1.45"/>
<line x1="257.4" y1="357.5" x2="274.9" y2="357.5" stroke="#000" stroke-width="1.15"/>
<line x1="261.2" y1="352.2" x2="271.6" y2="361.8" stroke="#000" stroke-width="2.0"/>
<line x1="257.4" y1="609.5" x2="274.9" y2="609.5" stroke="#000" stroke-width="1.15"/>
<line x1="261.2" y1="604.6" x2="271.6" y2="614.2" stroke="#000" stroke-width="2.0"/>
<text x="0" y="0" font-size="14.5" fill="#0a0a0a" text-anchor="middle" transform="translate(265.2 483.2) rotate(-90)" textLength="19.95" lengthAdjust="spacingAndGlyphs" stroke="#0a0a0a" stroke-width="0.3">460</text>
<line x1="283.5" y1="348" x2="283.5" y2="618.4" stroke="#000" stroke-width="1.45"/>
<line x1="274.6" y1="357.5" x2="292.1" y2="357.5" stroke="#000" stroke-width="1.15"/>
<line x1="278.4" y1="352.2" x2="288.8" y2="361.8" stroke="#000" stroke-width="2.0"/>
<line x1="274.6" y1="406.5" x2="292.1" y2="406.5" stroke="#000" stroke-width="1.15"/>
<line x1="278.4" y1="401.58" x2="288.8" y2="411.18" stroke="#000" stroke-width="2.0"/>
<line x1="274.6" y1="505.5" x2="292.1" y2="505.5" stroke="#000" stroke-width="1.15"/>
<line x1="278.4" y1="500.35" x2="288.8" y2="509.95" stroke="#000" stroke-width="2.0"/>
<line x1="274.6" y1="609.5" x2="292.1" y2="609.5" stroke="#000" stroke-width="1.15"/>
<line x1="278.4" y1="604.6" x2="288.8" y2="614.2" stroke="#000" stroke-width="2.0"/>
<text x="0" y="0" font-size="14.5" fill="#0a0a0a" text-anchor="middle" transform="translate(282.4 381.69) rotate(-90)" textLength="13.3" lengthAdjust="spacingAndGlyphs" stroke="#0a0a0a" stroke-width="0.3">90</text>
<text x="0" y="0" font-size="14.5" fill="#0a0a0a" text-anchor="middle" transform="translate(282.4 455.77) rotate(-90)" textLength="19.95" lengthAdjust="spacingAndGlyphs" stroke="#0a0a0a" stroke-width="0.3">180</text>
<text x="0" y="0" font-size="14.5" fill="#0a0a0a" text-anchor="middle" transform="translate(282.4 557.28) rotate(-90)" textLength="19.95" lengthAdjust="spacingAndGlyphs" stroke="#0a0a0a" stroke-width="0.3">190</text>
<line x1="300.5" y1="348" x2="300.5" y2="618.4" stroke="#000" stroke-width="1.45"/>
<line x1="291.3" y1="357.5" x2="308.8" y2="357.5" stroke="#000" stroke-width="1.15"/>
<line x1="295.1" y1="352.2" x2="305.5" y2="361.8" stroke="#000" stroke-width="2.0"/>
<line x1="291.3" y1="406.5" x2="308.8" y2="406.5" stroke="#000" stroke-width="1.15"/>
<line x1="295.1" y1="401.58" x2="305.5" y2="411.18" stroke="#000" stroke-width="2.0"/>
<line x1="291.3" y1="428.5" x2="308.8" y2="428.5" stroke="#000" stroke-width="1.15"/>
<line x1="295.1" y1="423.53" x2="305.5" y2="433.13" stroke="#000" stroke-width="2.0"/>
<line x1="291.3" y1="472.5" x2="308.8" y2="472.5" stroke="#000" stroke-width="1.15"/>
<line x1="295.1" y1="467.43" x2="305.5" y2="477.03" stroke="#000" stroke-width="2.0"/>
<line x1="291.3" y1="505.5" x2="308.8" y2="505.5" stroke="#000" stroke-width="1.15"/>
<line x1="295.1" y1="500.35" x2="305.5" y2="509.95" stroke="#000" stroke-width="2.0"/>
<line x1="291.3" y1="609.5" x2="308.8" y2="609.5" stroke="#000" stroke-width="1.15"/>
<line x1="295.1" y1="604.6" x2="305.5" y2="614.2" stroke="#000" stroke-width="2.0"/>
<text x="0" y="0" font-size="14.5" fill="#0a0a0a" text-anchor="middle" transform="translate(299.1 381.69) rotate(-90)" textLength="13.3" lengthAdjust="spacingAndGlyphs" stroke="#0a0a0a" stroke-width="0.3">90</text>
<text x="0" y="0" font-size="14.5" fill="#0a0a0a" text-anchor="middle" transform="translate(299.1 417.36) rotate(-90)" textLength="13.3" lengthAdjust="spacingAndGlyphs" stroke="#0a0a0a" stroke-width="0.3">40</text>
<text x="0" y="0" font-size="14.5" fill="#0a0a0a" text-anchor="middle" transform="translate(299.1 450.28) rotate(-90)" textLength="13.3" lengthAdjust="spacingAndGlyphs" stroke="#0a0a0a" stroke-width="0.3">80</text>
<text x="0" y="0" font-size="14.5" fill="#0a0a0a" text-anchor="middle" transform="translate(299.1 488.69) rotate(-90)" textLength="13.3" lengthAdjust="spacingAndGlyphs" stroke="#0a0a0a" stroke-width="0.3">60</text>
<text x="0" y="0" font-size="14.5" fill="#0a0a0a" text-anchor="middle" transform="translate(299.1 557.28) rotate(-90)" textLength="19.95" lengthAdjust="spacingAndGlyphs" stroke="#0a0a0a" stroke-width="0.3">190</text>
<line x1="316.5" y1="348" x2="316.5" y2="618.4" stroke="#000" stroke-width="1.45"/>
<line x1="307.9" y1="357.5" x2="325.4" y2="357.5" stroke="#000" stroke-width="1.15"/>
<line x1="311.7" y1="352.2" x2="322.1" y2="361.8" stroke="#000" stroke-width="2.0"/>
<line x1="307.9" y1="373.5" x2="325.4" y2="373.5" stroke="#000" stroke-width="1.15"/>
<line x1="311.7" y1="368.66" x2="322.1" y2="378.26" stroke="#000" stroke-width="2.0"/>
<line x1="307.9" y1="406.5" x2="325.4" y2="406.5" stroke="#000" stroke-width="1.15"/>
<line x1="311.7" y1="401.58" x2="322.1" y2="411.18" stroke="#000" stroke-width="2.0"/>
<line x1="307.9" y1="422.5" x2="325.4" y2="422.5" stroke="#000" stroke-width="1.15"/>
<line x1="311.7" y1="418.04" x2="322.1" y2="427.64" stroke="#000" stroke-width="2.0"/>
<line x1="307.9" y1="488.5" x2="325.4" y2="488.5" stroke="#000" stroke-width="1.15"/>
<line x1="311.7" y1="483.89" x2="322.1" y2="493.49" stroke="#000" stroke-width="2.0"/>
<line x1="307.9" y1="505.5" x2="325.4" y2="505.5" stroke="#000" stroke-width="1.15"/>
<line x1="311.7" y1="500.35" x2="322.1" y2="509.95" stroke="#000" stroke-width="2.0"/>
<line x1="307.9" y1="592.5" x2="325.4" y2="592.5" stroke="#000" stroke-width="1.15"/>
<line x1="311.7" y1="588.14" x2="322.1" y2="597.74" stroke="#000" stroke-width="2.0"/>
<line x1="307.9" y1="609.5" x2="325.4" y2="609.5" stroke="#000" stroke-width="1.15"/>
<line x1="311.7" y1="604.6" x2="322.1" y2="614.2" stroke="#000" stroke-width="2.0"/>
<text x="0" y="0" font-size="14.5" fill="#0a0a0a" text-anchor="middle" transform="translate(315.7 365.23) rotate(-90)" textLength="13.3" lengthAdjust="spacingAndGlyphs" stroke="#0a0a0a" stroke-width="0.3">30</text>
<text x="0" y="0" font-size="14.5" fill="#0a0a0a" text-anchor="middle" transform="translate(315.7 389.92) rotate(-90)" textLength="13.3" lengthAdjust="spacingAndGlyphs" stroke="#0a0a0a" stroke-width="0.3">60</text>
<text x="0" y="0" font-size="14.5" fill="#0a0a0a" text-anchor="middle" transform="translate(315.7 414.61) rotate(-90)" textLength="13.3" lengthAdjust="spacingAndGlyphs" stroke="#0a0a0a" stroke-width="0.3">30</text>
<text x="0" y="0" font-size="14.5" fill="#0a0a0a" text-anchor="middle" transform="translate(315.7 455.77) rotate(-90)" textLength="19.95" lengthAdjust="spacingAndGlyphs" stroke="#0a0a0a" stroke-width="0.3">120</text>
<text x="0" y="0" font-size="14.5" fill="#0a0a0a" text-anchor="middle" transform="translate(315.7 496.92) rotate(-90)" textLength="13.3" lengthAdjust="spacingAndGlyphs" stroke="#0a0a0a" stroke-width="0.3">30</text>
<text x="0" y="0" font-size="14.5" fill="#0a0a0a" text-anchor="middle" transform="translate(315.7 549.05) rotate(-90)" textLength="19.95" lengthAdjust="spacingAndGlyphs" stroke="#0a0a0a" stroke-width="0.3">160</text>
<text x="0" y="0" font-size="14.5" fill="#0a0a0a" text-anchor="middle" transform="translate(315.7 601.17) rotate(-90)" textLength="13.3" lengthAdjust="spacingAndGlyphs" stroke="#0a0a0a" stroke-width="0.3">30</text>
<line x1="333.5" y1="348" x2="333.5" y2="618.4" stroke="#000" stroke-width="1.45"/>
<line x1="324.4" y1="357.5" x2="341.9" y2="357.5" stroke="#000" stroke-width="1.15"/>
<line x1="328.2" y1="352.2" x2="338.6" y2="361.8" stroke="#000" stroke-width="2.0"/>
<line x1="324.4" y1="359.5" x2="341.9" y2="359.5" stroke="#000" stroke-width="1.15"/>
<line x1="328.2" y1="354.94" x2="338.6" y2="364.54" stroke="#000" stroke-width="2.0"/>
<line x1="324.4" y1="370.5" x2="341.9" y2="370.5" stroke="#000" stroke-width="1.15"/>
<line x1="328.2" y1="365.92" x2="338.6" y2="375.52" stroke="#000" stroke-width="2.0"/>
<line x1="324.4" y1="409.5" x2="341.9" y2="409.5" stroke="#000" stroke-width="1.15"/>
<line x1="328.2" y1="404.33" x2="338.6" y2="413.93" stroke="#000" stroke-width="2.0"/>
<line x1="324.4" y1="420.5" x2="341.9" y2="420.5" stroke="#000" stroke-width="1.15"/>
<line x1="328.2" y1="415.3" x2="338.6" y2="424.9" stroke="#000" stroke-width="2.0"/>
<line x1="324.4" y1="491.5" x2="341.9" y2="491.5" stroke="#000" stroke-width="1.15"/>
<line x1="328.2" y1="486.63" x2="338.6" y2="496.23" stroke="#000" stroke-width="2.0"/>
<line x1="324.4" y1="502.5" x2="341.9" y2="502.5" stroke="#000" stroke-width="1.15"/>
<line x1="328.2" y1="497.61" x2="338.6" y2="507.21" stroke="#000" stroke-width="2.0"/>
<line x1="324.4" y1="595.5" x2="341.9" y2="595.5" stroke="#000" stroke-width="1.15"/>
<line x1="328.2" y1="590.88" x2="338.6" y2="600.48" stroke="#000" stroke-width="2.0"/>
<line x1="324.4" y1="606.5" x2="341.9" y2="606.5" stroke="#000" stroke-width="1.15"/>
<line x1="328.2" y1="601.86" x2="338.6" y2="611.46" stroke="#000" stroke-width="2.0"/>
<line x1="324.4" y1="609.5" x2="341.9" y2="609.5" stroke="#000" stroke-width="1.15"/>
<line x1="328.2" y1="604.6" x2="338.6" y2="614.2" stroke="#000" stroke-width="2.0"/>
<text x="0" y="0" font-size="14.5" fill="#0a0a0a" text-anchor="middle" transform="translate(331.5 347.5) rotate(-90)" textLength="6.65" lengthAdjust="spacingAndGlyphs" stroke="#0a0a0a" stroke-width="0.3">5</text>
<text x="0" y="0" font-size="14.5" fill="#0a0a0a" text-anchor="middle" transform="translate(332.2 365.23) rotate(-90)" textLength="13.3" lengthAdjust="spacingAndGlyphs" stroke="#0a0a0a" stroke-width="0.3">20</text>
<text x="0" y="0" font-size="14.5" fill="#0a0a0a" text-anchor="middle" transform="translate(332.2 389.92) rotate(-90)" textLength="13.3" lengthAdjust="spacingAndGlyphs" stroke="#0a0a0a" stroke-width="0.3">70</text>
<text x="0" y="0" font-size="14.5" fill="#0a0a0a" text-anchor="middle" transform="translate(332.2 414.61) rotate(-90)" textLength="13.3" lengthAdjust="spacingAndGlyphs" stroke="#0a0a0a" stroke-width="0.3">20</text>
<text x="0" y="0" font-size="14.5" fill="#0a0a0a" text-anchor="middle" transform="translate(332.2 455.77) rotate(-90)" textLength="19.95" lengthAdjust="spacingAndGlyphs" stroke="#0a0a0a" stroke-width="0.3">130</text>
<text x="0" y="0" font-size="14.5" fill="#0a0a0a" text-anchor="middle" transform="translate(332.2 496.92) rotate(-90)" textLength="13.3" lengthAdjust="spacingAndGlyphs" stroke="#0a0a0a" stroke-width="0.3">20</text>
<text x="0" y="0" font-size="14.5" fill="#0a0a0a" text-anchor="middle" transform="translate(332.2 549.04) rotate(-90)" textLength="19.95" lengthAdjust="spacingAndGlyphs" stroke="#0a0a0a" stroke-width="0.3">170</text>
<text x="0" y="0" font-size="14.5" fill="#0a0a0a" text-anchor="middle" transform="translate(332.2 601.17) rotate(-90)" textLength="13.3" lengthAdjust="spacingAndGlyphs" stroke="#0a0a0a" stroke-width="0.3">20</text>
<text x="0" y="0" font-size="14.5" fill="#0a0a0a" text-anchor="middle" transform="translate(344.4 620) rotate(-90)" textLength="6.65" lengthAdjust="spacingAndGlyphs" stroke="#0a0a0a" stroke-width="0.3">5</text>
<line x1="350.5" y1="348" x2="350.5" y2="618.4" stroke="#000" stroke-width="1.45"/>
<line x1="341" y1="357.5" x2="358.5" y2="357.5" stroke="#000" stroke-width="1.15"/>
<line x1="344.8" y1="352.2" x2="355.2" y2="361.8" stroke="#000" stroke-width="2.0"/>
<line x1="341" y1="365.5" x2="358.5" y2="365.5" stroke="#000" stroke-width="1.15"/>
<line x1="344.8" y1="360.43" x2="355.2" y2="370.03" stroke="#000" stroke-width="2.0"/>
<line x1="341" y1="414.5" x2="358.5" y2="414.5" stroke="#000" stroke-width="1.15"/>
<line x1="344.8" y1="409.81" x2="355.2" y2="419.41" stroke="#000" stroke-width="2.0"/>
<line x1="341" y1="496.5" x2="358.5" y2="496.5" stroke="#000" stroke-width="1.15"/>
<line x1="344.8" y1="492.12" x2="355.2" y2="501.72" stroke="#000" stroke-width="2.0"/>
<line x1="341" y1="601.5" x2="358.5" y2="601.5" stroke="#000" stroke-width="1.15"/>
<line x1="344.8" y1="596.37" x2="355.2" y2="605.97" stroke="#000" stroke-width="2.0"/>
<line x1="341" y1="609.5" x2="358.5" y2="609.5" stroke="#000" stroke-width="1.15"/>
<line x1="344.8" y1="604.6" x2="355.2" y2="614.2" stroke="#000" stroke-width="2.0"/>
<text x="0" y="0" font-size="14.5" fill="#0a0a0a" text-anchor="middle" transform="translate(348.5 339.5) rotate(-90)" textLength="13.3" lengthAdjust="spacingAndGlyphs" stroke="#0a0a0a" stroke-width="0.3">15</text>
<text x="0" y="0" font-size="14.5" fill="#0a0a0a" text-anchor="middle" transform="translate(348.8 389.92) rotate(-90)" textLength="13.3" lengthAdjust="spacingAndGlyphs" stroke="#0a0a0a" stroke-width="0.3">90</text>
<text x="0" y="0" font-size="14.5" fill="#0a0a0a" text-anchor="middle" transform="translate(348.8 455.77) rotate(-90)" textLength="19.95" lengthAdjust="spacingAndGlyphs" stroke="#0a0a0a" stroke-width="0.3">150</text>
<text x="0" y="0" font-size="14.5" fill="#0a0a0a" text-anchor="middle" transform="translate(348.8 549.04) rotate(-90)" textLength="19.95" lengthAdjust="spacingAndGlyphs" stroke="#0a0a0a" stroke-width="0.3">190</text>
<text x="0" y="0" font-size="14.5" fill="#0a0a0a" text-anchor="middle" transform="translate(361.7 622.2) rotate(-90)" textLength="13.3" lengthAdjust="spacingAndGlyphs" stroke="#0a0a0a" stroke-width="0.3">15</text>
<line x1="1199.5" y1="348" x2="1199.5" y2="618.4" stroke="#000" stroke-width="1.45"/>
<line x1="1190.6" y1="357.5" x2="1208.1" y2="357.5" stroke="#000" stroke-width="1.15"/>
<line x1="1194.4" y1="352.2" x2="1204.8" y2="361.8" stroke="#000" stroke-width="2.0"/>
<line x1="1190.6" y1="365.5" x2="1208.1" y2="365.5" stroke="#000" stroke-width="1.15"/>
<line x1="1194.4" y1="360.43" x2="1204.8" y2="370.03" stroke="#000" stroke-width="2.0"/>
<line x1="1190.6" y1="414.5" x2="1208.1" y2="414.5" stroke="#000" stroke-width="1.15"/>
<line x1="1194.4" y1="409.81" x2="1204.8" y2="419.41" stroke="#000" stroke-width="2.0"/>
<line x1="1190.6" y1="496.5" x2="1208.1" y2="496.5" stroke="#000" stroke-width="1.15"/>
<line x1="1194.4" y1="492.12" x2="1204.8" y2="501.72" stroke="#000" stroke-width="2.0"/>
<line x1="1190.6" y1="601.5" x2="1208.1" y2="601.5" stroke="#000" stroke-width="1.15"/>
<line x1="1194.4" y1="596.37" x2="1204.8" y2="605.97" stroke="#000" stroke-width="2.0"/>
<line x1="1190.6" y1="609.5" x2="1208.1" y2="609.5" stroke="#000" stroke-width="1.15"/>
<line x1="1194.4" y1="604.6" x2="1204.8" y2="614.2" stroke="#000" stroke-width="2.0"/>
<text x="0" y="0" font-size="14.5" fill="#0a0a0a" text-anchor="middle" transform="translate(1198.5 347) rotate(-90)" textLength="13.3" lengthAdjust="spacingAndGlyphs" stroke="#0a0a0a" stroke-width="0.3">15</text>
<text x="0" y="0" font-size="14.5" fill="#0a0a0a" text-anchor="middle" transform="translate(1198.4 389.92) rotate(-90)" textLength="13.3" lengthAdjust="spacingAndGlyphs" stroke="#0a0a0a" stroke-width="0.3">90</text>
<text x="0" y="0" font-size="14.5" fill="#0a0a0a" text-anchor="middle" transform="translate(1198.4 455.77) rotate(-90)" textLength="19.95" lengthAdjust="spacingAndGlyphs" stroke="#0a0a0a" stroke-width="0.3">150</text>
<text x="0" y="0" font-size="14.5" fill="#0a0a0a" text-anchor="middle" transform="translate(1198.4 549.04) rotate(-90)" textLength="19.95" lengthAdjust="spacingAndGlyphs" stroke="#0a0a0a" stroke-width="0.3">190</text>
<text x="0" y="0" font-size="14.5" fill="#0a0a0a" text-anchor="middle" transform="translate(1213 620) rotate(-90)" textLength="13.3" lengthAdjust="spacingAndGlyphs" stroke="#0a0a0a" stroke-width="0.3">15</text>
<line x1="1216.5" y1="348" x2="1216.5" y2="618.4" stroke="#000" stroke-width="1.45"/>
<line x1="1207.1" y1="357.5" x2="1224.6" y2="357.5" stroke="#000" stroke-width="1.15"/>
<line x1="1210.9" y1="352.2" x2="1221.3" y2="361.8" stroke="#000" stroke-width="2.0"/>
<line x1="1207.1" y1="359.5" x2="1224.6" y2="359.5" stroke="#000" stroke-width="1.15"/>
<line x1="1210.9" y1="354.94" x2="1221.3" y2="364.54" stroke="#000" stroke-width="2.0"/>
<line x1="1207.1" y1="370.5" x2="1224.6" y2="370.5" stroke="#000" stroke-width="1.15"/>
<line x1="1210.9" y1="365.92" x2="1221.3" y2="375.52" stroke="#000" stroke-width="2.0"/>
<line x1="1207.1" y1="595.5" x2="1224.6" y2="595.5" stroke="#000" stroke-width="1.15"/>
<line x1="1210.9" y1="590.88" x2="1221.3" y2="600.48" stroke="#000" stroke-width="2.0"/>
<line x1="1207.1" y1="606.5" x2="1224.6" y2="606.5" stroke="#000" stroke-width="1.15"/>
<line x1="1210.9" y1="601.86" x2="1221.3" y2="611.46" stroke="#000" stroke-width="2.0"/>
<line x1="1207.1" y1="609.5" x2="1224.6" y2="609.5" stroke="#000" stroke-width="1.15"/>
<line x1="1210.9" y1="604.6" x2="1221.3" y2="614.2" stroke="#000" stroke-width="2.0"/>
<text x="0" y="0" font-size="14.5" fill="#0a0a0a" text-anchor="middle" transform="translate(1214.5 349.2) rotate(-90)" textLength="6.65" lengthAdjust="spacingAndGlyphs" stroke="#0a0a0a" stroke-width="0.3">5</text>
<text x="0" y="0" font-size="14.5" fill="#0a0a0a" text-anchor="middle" transform="translate(1214.9 365.23) rotate(-90)" textLength="13.3" lengthAdjust="spacingAndGlyphs" stroke="#0a0a0a" stroke-width="0.3">20</text>
<text x="0" y="0" font-size="14.5" fill="#0a0a0a" text-anchor="middle" transform="translate(1214.9 483.2) rotate(-90)" textLength="19.95" lengthAdjust="spacingAndGlyphs" stroke="#0a0a0a" stroke-width="0.3">410</text>
<text x="0" y="0" font-size="14.5" fill="#0a0a0a" text-anchor="middle" transform="translate(1214.9 601.17) rotate(-90)" textLength="13.3" lengthAdjust="spacingAndGlyphs" stroke="#0a0a0a" stroke-width="0.3">20</text>
<text x="0" y="0" font-size="14.5" fill="#0a0a0a" text-anchor="middle" transform="translate(1229 616.8) rotate(-90)" textLength="6.65" lengthAdjust="spacingAndGlyphs" stroke="#0a0a0a" stroke-width="0.3">5</text>
<line x1="1233.5" y1="348" x2="1233.5" y2="618.4" stroke="#000" stroke-width="1.45"/>
<line x1="1224" y1="357.5" x2="1241.5" y2="357.5" stroke="#000" stroke-width="1.15"/>
<line x1="1227.8" y1="352.2" x2="1238.2" y2="361.8" stroke="#000" stroke-width="2.0"/>
<line x1="1224" y1="373.5" x2="1241.5" y2="373.5" stroke="#000" stroke-width="1.15"/>
<line x1="1227.8" y1="368.66" x2="1238.2" y2="378.26" stroke="#000" stroke-width="2.0"/>
<line x1="1224" y1="592.5" x2="1241.5" y2="592.5" stroke="#000" stroke-width="1.15"/>
<line x1="1227.8" y1="588.14" x2="1238.2" y2="597.74" stroke="#000" stroke-width="2.0"/>
<line x1="1224" y1="609.5" x2="1241.5" y2="609.5" stroke="#000" stroke-width="1.15"/>
<line x1="1227.8" y1="604.6" x2="1238.2" y2="614.2" stroke="#000" stroke-width="2.0"/>
<text x="0" y="0" font-size="14.5" fill="#0a0a0a" text-anchor="middle" transform="translate(1231.8 365.23) rotate(-90)" textLength="13.3" lengthAdjust="spacingAndGlyphs" stroke="#0a0a0a" stroke-width="0.3">30</text>
<text x="0" y="0" font-size="14.5" fill="#0a0a0a" text-anchor="middle" transform="translate(1231.8 483.2) rotate(-90)" textLength="19.95" lengthAdjust="spacingAndGlyphs" stroke="#0a0a0a" stroke-width="0.3">400</text>
<text x="0" y="0" font-size="14.5" fill="#0a0a0a" text-anchor="middle" transform="translate(1231.8 601.17) rotate(-90)" textLength="13.3" lengthAdjust="spacingAndGlyphs" stroke="#0a0a0a" stroke-width="0.3">30</text>
<line x1="1249.5" y1="348" x2="1249.5" y2="618.4" stroke="#000" stroke-width="1.45"/>
<line x1="1240.5" y1="357.5" x2="1258" y2="357.5" stroke="#000" stroke-width="1.15"/>
<line x1="1244.3" y1="352.2" x2="1254.7" y2="361.8" stroke="#000" stroke-width="2.0"/>
<line x1="1240.5" y1="499.5" x2="1258" y2="499.5" stroke="#000" stroke-width="1.15"/>
<line x1="1244.3" y1="494.86" x2="1254.7" y2="504.46" stroke="#000" stroke-width="2.0"/>
<line x1="1240.5" y1="592.5" x2="1258" y2="592.5" stroke="#000" stroke-width="1.15"/>
<line x1="1244.3" y1="588.14" x2="1254.7" y2="597.74" stroke="#000" stroke-width="2.0"/>
<line x1="1240.5" y1="609.5" x2="1258" y2="609.5" stroke="#000" stroke-width="1.15"/>
<line x1="1244.3" y1="604.6" x2="1254.7" y2="614.2" stroke="#000" stroke-width="2.0"/>
<text x="0" y="0" font-size="14.5" fill="#0a0a0a" text-anchor="middle" transform="translate(1248.3 428.33) rotate(-90)" textLength="19.95" lengthAdjust="spacingAndGlyphs" stroke="#0a0a0a" stroke-width="0.3">260</text>
<text x="0" y="0" font-size="14.5" fill="#0a0a0a" text-anchor="middle" transform="translate(1248.3 546.3) rotate(-90)" textLength="19.95" lengthAdjust="spacingAndGlyphs" stroke="#0a0a0a" stroke-width="0.3">170</text>
<text x="0" y="0" font-size="14.5" fill="#0a0a0a" text-anchor="middle" transform="translate(1248.3 601.17) rotate(-90)" textLength="13.3" lengthAdjust="spacingAndGlyphs" stroke="#0a0a0a" stroke-width="0.3">30</text>
<line x1="1266.5" y1="348" x2="1266.5" y2="618.4" stroke="#000" stroke-width="1.45"/>
<line x1="1257.1" y1="357.5" x2="1274.6" y2="357.5" stroke="#000" stroke-width="1.15"/>
<line x1="1260.9" y1="352.2" x2="1271.3" y2="361.8" stroke="#000" stroke-width="2.0"/>
<line x1="1257.1" y1="609.5" x2="1274.6" y2="609.5" stroke="#000" stroke-width="1.15"/>
<line x1="1260.9" y1="604.6" x2="1271.3" y2="614.2" stroke="#000" stroke-width="2.0"/>
<text x="0" y="0" font-size="14.5" fill="#0a0a0a" text-anchor="middle" transform="translate(1264.9 483.2) rotate(-90)" textLength="19.95" lengthAdjust="spacingAndGlyphs" stroke="#0a0a0a" stroke-width="0.3">460</text>
</g>
<g id="beams">
<line x1="751.52" y1="593.5" x2="1102" y2="593.5" stroke="#222" stroke-width="1.3" stroke-dasharray="18 8" stroke-dashoffset="3.5"/>
<line x1="751.52" y1="609.5" x2="1102" y2="609.5" stroke="#222" stroke-width="1.3" stroke-dasharray="18 8" stroke-dashoffset="3.5"/>
<polyline points="542.5,505 542.5,658.5 1117.5,658.5 1117.5,610" fill="none" stroke="#222" stroke-width="1.4" stroke-dasharray="22 7"/>
<line x1="1122.5" y1="457" x2="1122.5" y2="612" stroke="#333" stroke-width="1.2" stroke-dasharray="19 7"/>
<line x1="353" y1="457.5" x2="1163" y2="457.5" stroke="#222" stroke-width="1.3" stroke-dasharray="22 5 2 5"/>
<line x1="860.5" y1="322" x2="860.5" y2="690" stroke="#222" stroke-width="1.3" stroke-dasharray="22 5 2 5"/>
</g>
<g id="jacuzzi">
<line x1="559" y1="406.5" x2="685" y2="406.5" stroke="#1a1a1a" stroke-width="1.3"/>
<line x1="559" y1="423.5" x2="685" y2="423.5" stroke="#1a1a1a" stroke-width="1.5"/>
<line x1="559.5" y1="406.4" x2="559.5" y2="505" stroke="#1a1a1a" stroke-width="1.2"/>
<line x1="559.5" y1="505" x2="559.5" y2="592.8" stroke="#1a1a1a" stroke-width="1.3" stroke-dasharray="19 8"/>
<line x1="559" y1="592.5" x2="667" y2="592.5" stroke="#1a1a1a" stroke-width="1.3" stroke-dasharray="18 9"/>
<line x1="559.4" y1="447.5" x2="685" y2="447.5" stroke="#1a1a1a" stroke-width="1.25" stroke-dasharray="18 9"/>
<line x1="559.4" y1="453.5" x2="685" y2="453.5" stroke="#1a1a1a" stroke-width="1.25" stroke-dasharray="18 9"/>
<line x1="559.4" y1="477.5" x2="685" y2="477.5" stroke="#1a1a1a" stroke-width="1.25" stroke-dasharray="18 9"/>
<line x1="559.4" y1="482.5" x2="685" y2="482.5" stroke="#1a1a1a" stroke-width="1.25" stroke-dasharray="18 9"/>
<line x1="559.4" y1="506.5" x2="685" y2="506.5" stroke="#1a1a1a" stroke-width="1.25" stroke-dasharray="18 9"/>
<line x1="559.4" y1="511.5" x2="685" y2="511.5" stroke="#1a1a1a" stroke-width="1.25" stroke-dasharray="18 9"/>
<line x1="559.4" y1="535.5" x2="685" y2="535.5" stroke="#1a1a1a" stroke-width="1.25" stroke-dasharray="18 9"/>
<line x1="559.4" y1="540.5" x2="685" y2="540.5" stroke="#1a1a1a" stroke-width="1.25" stroke-dasharray="18 9"/>
<line x1="559.4" y1="564.5" x2="685" y2="564.5" stroke="#1a1a1a" stroke-width="1.25" stroke-dasharray="18 9"/>
<line x1="559.4" y1="569.5" x2="685" y2="569.5" stroke="#1a1a1a" stroke-width="1.25" stroke-dasharray="18 9"/>
<line x1="559" y1="454.5" x2="685" y2="454.5" stroke="#1a1a1a" stroke-width="1.1"/>
<line x1="559" y1="433.5" x2="572" y2="433.5" stroke="#1a1a1a" stroke-width="1.1"/>
<line x1="559" y1="476.5" x2="572" y2="476.5" stroke="#1a1a1a" stroke-width="1.0"/>
<line x1="559" y1="484.5" x2="572" y2="484.5" stroke="#1a1a1a" stroke-width="1.0"/>
<line x1="559" y1="500.5" x2="572" y2="500.5" stroke="#1a1a1a" stroke-width="1.0"/>
<rect x="570.4" y="423" width="114.4" height="108" fill="none" stroke="#1a1a1a" stroke-width="1.3"/>
<path d="M571.8,515 L571.8,436 Q571.8,424.2 584,424.2 L672,424.2 Q684,424.2 684,436 L684,498 Q684,529.3 652,529.3 L586,529.3 Q571.8,529.3 571.8,515 Z" fill="none" stroke="#1a1a1a" stroke-width="1.2"/>
<path d="M576,470 L576,438 Q576,428.4 586,428.4 L664,428.4 Q672.5,428.4 672.5,437 L672.5,462 M584.4,500 L584.4,514 Q584.4,525.4 596,525.4 L650,525.4 Q680.5,525.4 680.5,497 Q680.5,478 668,470" fill="none" stroke="#1a1a1a" stroke-width="1.15"/>
<path d="M606,434 L658,434 Q664.5,434 664.5,441 L664.5,463 M591.6,489 L591.6,512 Q591.6,519.6 599,519.6 L648,519.6 Q656,519.6 656,512 L656,490" fill="none" stroke="#1a1a1a" stroke-width="1.15"/>
<path d="M596.8,497 Q596.8,491 603,490 Q611,489 612.4,478 Q613,470 609.4,466 L609.2,446 Q609.4,441.5 614,440 L622.5,436.6 Q625,436.3 626,439 Q627,445.6 631.6,446.2 Q636.6,445.6 637.4,439 Q638,436.3 640.5,436.6 L653.4,440 Q657.6,441 657.6,445.5 L657.6,458 Q657.6,466 650,467.4 Q643,468.6 641,476 Q638,489 644,500 Q647,508 642.5,514.2 L601,514.2 Q596.8,514.2 596.8,509 Z" fill="none" stroke="#1a1a1a" stroke-width="1.6"/>
<path d="M575.5,441 Q573,470 592,482 Q600,486 603.4,478 M577.5,444 Q583,434 598,440 Q603,462 603.4,478 Q604,484 611,497" fill="none" stroke="#1a1a1a" stroke-width="1.1"/>
<path d="M645,466 Q660,480 663,500 Q664,512 656,519 M650,470 Q672,486 672,505 Q671,520 660,526 M636,470 Q648,488 649,505 Q649,514 645,519" fill="none" stroke="#1a1a1a" stroke-width="1.1"/>
<path d="M586.5,454 L596.5,471 M606,482 L611,492 M641,487 L631.5,503 M617,501 L626,512 M625,510 L617,523 M632,521.5 L643,536 M656,432 L662,424" fill="none" stroke="#1a1a1a" stroke-width="1.2"/>
<ellipse cx="586.2" cy="455" rx="1.5" ry="2.2" fill="#000"/>
<ellipse cx="668.7" cy="500.6" rx="1.6" ry="2.4" fill="#000"/>
<ellipse cx="665.6" cy="436" rx="1.3" ry="2.2" fill="#000"/>
<ellipse cx="666.2" cy="466" rx="1.3" ry="2.2" fill="#000"/>
<rect x="588" y="486.8" width="2.4" height="3.8" fill="#000" stroke="none" stroke-width="1"/>
<rect x="588" y="514.6" width="2.4" height="3.8" fill="#000" stroke="none" stroke-width="1"/>
<rect x="570.8" y="487.6" width="14.2" height="29.6" fill="#3a3a3a" stroke="#000" stroke-width="1.2"/>
<rect x="573.4" y="494.5" width="8.2" height="12" fill="#cfcfcf" stroke="#222" stroke-width="0.9"/>
<rect x="575.8" y="496" width="3.2" height="9" fill="#f2f2f2" stroke="#555" stroke-width="0.6"/>
<rect x="572.6" y="509" width="10.4" height="6.2" fill="#777" stroke="#111" stroke-width="0.8"/>
<line x1="572.5" y1="491.5" x2="583.5" y2="491.5" stroke="#999" stroke-width="1" stroke-dasharray="2 1.5"/>
<rect x="668.6" y="436.2" width="15.2" height="21.5" fill="#e6d795" stroke="none" stroke-width="1" opacity="0.85"/>
<rect x="670" y="438.6" width="12.8" height="6.4" fill="#5a4a12" stroke="#2a2208" stroke-width="0.8"/>
<rect x="669.5" y="457.8" width="14.6" height="6" fill="#3a3a3a" stroke="#000" stroke-width="0.9"/>
<rect x="670.5" y="447.2" width="5" height="9.4" fill="#efe6b6" stroke="#5a5020" stroke-width="0.8"/>
<rect x="677" y="447.2" width="5" height="9.4" fill="#efe6b6" stroke="#5a5020" stroke-width="0.8"/>
<line x1="671" y1="460.5" x2="683" y2="460.5" stroke="#aaa" stroke-width="1" stroke-dasharray="2 1.5"/>
<line x1="676" y1="436" x2="684" y2="424" stroke="#1a1a1a" stroke-width="1.1"/>
<rect x="573.2" y="430.6" width="32.2" height="9.4" fill="#fff" stroke="#1a1a1a" stroke-width="1.2"/>
<text x="587.5" y="439" font-size="10" fill="#111" text-anchor="middle" textLength="23" lengthAdjust="spacingAndGlyphs" font-style="italic">ZV 5</text>
<polygon points="599.5,439.4 604.8,439 604.6,433.6" fill="#fff" stroke="#1a1a1a" stroke-width="1.0"/>
<path d="M574,443 q4,9 10,13 M579.8,441 l-5.5,7" fill="none" stroke="#1a1a1a" stroke-width="1.1"/>
<line x1="559.2" y1="609.2" x2="641.5" y2="486.5" stroke="#1a1a1a" stroke-width="1.3" stroke-dasharray="42 9"/>
<line x1="646.5" y1="532.2" x2="646.5" y2="594.2" stroke="#1a1a1a" stroke-width="1.3"/>
<line x1="646.9" y1="594.5" x2="685" y2="594.5" stroke="#555" stroke-width="1.6"/>
<line x1="646.9" y1="544.5" x2="685" y2="544.5" stroke="#1a1a1a" stroke-width="1.0"/>
<line x1="646.9" y1="563.5" x2="685" y2="563.5" stroke="#1a1a1a" stroke-width="1.0"/>
<line x1="646.9" y1="572.5" x2="685" y2="572.5" stroke="#1a1a1a" stroke-width="1.0"/>
<line x1="646.9" y1="580.5" x2="685" y2="580.5" stroke="#1a1a1a" stroke-width="1.0"/>
<line x1="646.9" y1="588.5" x2="685" y2="588.5" stroke="#1a1a1a" stroke-width="1.0"/>
<line x1="665.5" y1="540" x2="665.5" y2="594" stroke="#1a1a1a" stroke-width="1.1"/>
<polygon points="660.4,539.6 671.6,539.6 666,533.2" fill="#fff" stroke="#1a1a1a" stroke-width="1.1"/>
<circle cx="665.9" cy="595.2" r="2" fill="#fff" stroke="#1a1a1a" stroke-width="1.1"/>
<rect x="666.4" y="564.8" width="17.8" height="18.4" fill="#ece29e" stroke="none" stroke-width="1" opacity="0.9"/>
<circle cx="675.2" cy="574" r="6.6" fill="#efe6a8" stroke="#cfc266" stroke-width="1.2"/>
<line x1="670.53" y1="569.33" x2="679.87" y2="578.67" stroke="#cfc266" stroke-width="1.1"/>
<line x1="670.53" y1="578.67" x2="679.87" y2="569.33" stroke="#cfc266" stroke-width="1.1"/>
<line x1="664" y1="562" x2="684" y2="590" stroke="#444" stroke-width="1.0"/>
</g>
<g id="posts">
<rect x="751.02" y="406.3" width="170.1" height="17" fill="#fff" stroke="none" stroke-width="1"/>
<rect x="758.2" y="406.3" width="5.4" height="17" fill="#bdbdbd" stroke="#2a2a2a" stroke-width="1.2"/>
<rect x="770.7" y="406.3" width="5.4" height="17" fill="#bdbdbd" stroke="#2a2a2a" stroke-width="1.2"/>
<rect x="783.2" y="406.3" width="5.4" height="17" fill="#bdbdbd" stroke="#2a2a2a" stroke-width="1.2"/>
<rect x="795.7" y="406.3" width="5.4" height="17" fill="#bdbdbd" stroke="#2a2a2a" stroke-width="1.2"/>
<rect x="808.2" y="406.3" width="5.4" height="17" fill="#bdbdbd" stroke="#2a2a2a" stroke-width="1.2"/>
<rect x="820.7" y="406.3" width="5.4" height="17" fill="#bdbdbd" stroke="#2a2a2a" stroke-width="1.2"/>
<rect x="833.2" y="406.3" width="5.4" height="17" fill="#bdbdbd" stroke="#2a2a2a" stroke-width="1.2"/>
<rect x="845.7" y="406.3" width="5.4" height="17" fill="#bdbdbd" stroke="#2a2a2a" stroke-width="1.2"/>
<rect x="858.2" y="406.3" width="5.4" height="17" fill="#bdbdbd" stroke="#2a2a2a" stroke-width="1.2"/>
<rect x="870.7" y="406.3" width="5.4" height="17" fill="#bdbdbd" stroke="#2a2a2a" stroke-width="1.2"/>
<rect x="883.2" y="406.3" width="5.4" height="17" fill="#bdbdbd" stroke="#2a2a2a" stroke-width="1.2"/>
<rect x="895.7" y="406.3" width="5.4" height="17" fill="#bdbdbd" stroke="#2a2a2a" stroke-width="1.2"/>
<rect x="908.2" y="406.3" width="5.4" height="17" fill="#bdbdbd" stroke="#2a2a2a" stroke-width="1.2"/>
<line x1="751.02" y1="406.5" x2="921.12" y2="406.5" stroke="#222" stroke-width="1.5"/>
<line x1="751.02" y1="423.5" x2="921.12" y2="423.5" stroke="#222" stroke-width="1.5"/>
<rect x="1101.6" y="499.11" width="17" height="93.83" fill="#fff" stroke="none" stroke-width="1"/>
<rect x="1101.6" y="506.3" width="17" height="5.8" fill="#bdbdbd" stroke="#2a2a2a" stroke-width="1.2"/>
<rect x="1101.6" y="518.8" width="17" height="5.8" fill="#bdbdbd" stroke="#2a2a2a" stroke-width="1.2"/>
<rect x="1101.6" y="531.3" width="17" height="5.8" fill="#bdbdbd" stroke="#2a2a2a" stroke-width="1.2"/>
<rect x="1101.6" y="543.8" width="17" height="5.8" fill="#bdbdbd" stroke="#2a2a2a" stroke-width="1.2"/>
<rect x="1101.6" y="556.3" width="17" height="5.8" fill="#bdbdbd" stroke="#2a2a2a" stroke-width="1.2"/>
<rect x="1101.6" y="568.8" width="17" height="5.8" fill="#bdbdbd" stroke="#2a2a2a" stroke-width="1.2"/>
<rect x="1101.6" y="581.3" width="17" height="5.8" fill="#bdbdbd" stroke="#2a2a2a" stroke-width="1.2"/>
<line x1="1101.5" y1="499.11" x2="1101.5" y2="592.94" stroke="#222" stroke-width="1.5"/>
<line x1="1118.5" y1="499.11" x2="1118.5" y2="592.94" stroke="#222" stroke-width="1.5"/>
</g>
<g id="table">
<rect x="807.4" y="461.2" width="22.3" height="17" fill="#fff" stroke="#222" stroke-width="1.2"/>
<rect x="807.4" y="527" width="22.3" height="17" fill="#fff" stroke="#222" stroke-width="1.2"/>
<rect x="840.4" y="461.2" width="22.3" height="17" fill="#fff" stroke="#222" stroke-width="1.2"/>
<rect x="840.4" y="527" width="22.3" height="17" fill="#fff" stroke="#222" stroke-width="1.2"/>
<rect x="873.4" y="461.2" width="22.3" height="17" fill="#fff" stroke="#222" stroke-width="1.2"/>
<rect x="873.4" y="527" width="22.3" height="17" fill="#fff" stroke="#222" stroke-width="1.2"/>
<rect x="906.4" y="461.2" width="22.3" height="17" fill="#fff" stroke="#222" stroke-width="1.2"/>
<rect x="906.4" y="527" width="22.3" height="17" fill="#fff" stroke="#222" stroke-width="1.2"/>
<rect x="939.4" y="461.2" width="22.3" height="17" fill="#fff" stroke="#222" stroke-width="1.2"/>
<rect x="939.4" y="527" width="22.3" height="17" fill="#fff" stroke="#222" stroke-width="1.2"/>
<rect x="972.4" y="461.2" width="22.3" height="17" fill="#fff" stroke="#222" stroke-width="1.2"/>
<rect x="972.4" y="527" width="22.3" height="17" fill="#fff" stroke="#222" stroke-width="1.2"/>
<rect x="1005.4" y="461.2" width="22.3" height="17" fill="#fff" stroke="#222" stroke-width="1.2"/>
<rect x="1005.4" y="527" width="22.3" height="17" fill="#fff" stroke="#222" stroke-width="1.2"/>
<rect x="782.7" y="491.4" width="17" height="22.3" fill="#fff" stroke="#222" stroke-width="1.2"/>
<rect x="1035" y="491.4" width="17.2" height="22.3" fill="#fff" stroke="#222" stroke-width="1.2"/>
<rect x="799" y="477.8" width="236.5" height="49.6" fill="#fff" stroke="#222" stroke-width="1.3"/>
</g>
<g id="grid">
<line x1="430.5" y1="344.5" x2="430.5" y2="664" stroke="#76486e" stroke-width="1.1" stroke-dasharray="30 7.5 1.4 7.5"/>
<text x="430.5" y="343" font-size="23" fill="#521049" text-anchor="middle">5</text>
<text x="430.5" y="683.5" font-size="23" fill="#521049" text-anchor="middle">5</text>
<line x1="550.5" y1="344.5" x2="550.5" y2="664" stroke="#76486e" stroke-width="1.1" stroke-dasharray="30 7.5 1.4 7.5"/>
<text x="550.5" y="343" font-size="23" fill="#521049" text-anchor="middle">6</text>
<text x="550.5" y="683.5" font-size="23" fill="#521049" text-anchor="middle">6</text>
<line x1="693.5" y1="344.5" x2="693.5" y2="664" stroke="#76486e" stroke-width="1.1" stroke-dasharray="30 7.5 1.4 7.5"/>
<text x="693.5" y="343" font-size="23" fill="#521049" text-anchor="middle">7</text>
<text x="693.5" y="683.5" font-size="23" fill="#521049" text-anchor="middle">7</text>
<line x1="929.5" y1="344.5" x2="929.5" y2="664" stroke="#76486e" stroke-width="1.1" stroke-dasharray="30 7.5 1.4 7.5"/>
<text x="929.5" y="343" font-size="23" fill="#521049" text-anchor="middle">8</text>
<text x="929.5" y="683.5" font-size="23" fill="#521049" text-anchor="middle">8</text>
<line x1="1110.5" y1="344.5" x2="1110.5" y2="664" stroke="#76486e" stroke-width="1.1" stroke-dasharray="30 7.5 1.4 7.5"/>
<text x="1110.5" y="343" font-size="23" fill="#521049" text-anchor="middle">9</text>
<text x="1110.5" y="683.5" font-size="23" fill="#521049" text-anchor="middle">9</text>
<line x1="397" y1="365.5" x2="1144" y2="365.5" stroke="#76486e" stroke-width="1.1" stroke-dasharray="20 8 1.4 8 33 7.5 1.4 7.5 33 7.5 1.4 7.5"/>
<text x="390.5" y="373.9" font-size="23" fill="#521049" text-anchor="middle">E</text>
<text x="1151" y="373.9" font-size="23" fill="#521049" text-anchor="middle">E</text>
<line x1="397" y1="414.5" x2="1144" y2="414.5" stroke="#76486e" stroke-width="1.1" stroke-dasharray="20 8 1.4 8 33 7.5 1.4 7.5 33 7.5 1.4 7.5"/>
<text x="390.5" y="422.9" font-size="23" fill="#521049" text-anchor="middle">F</text>
<text x="1151" y="422.9" font-size="23" fill="#521049" text-anchor="middle">F</text>
<line x1="397" y1="496.5" x2="1144" y2="496.5" stroke="#76486e" stroke-width="1.1" stroke-dasharray="20 8 1.4 8 33 7.5 1.4 7.5 33 7.5 1.4 7.5"/>
<text x="390.5" y="504.9" font-size="23" fill="#521049" text-anchor="middle">G</text>
<text x="1151" y="504.9" font-size="23" fill="#521049" text-anchor="middle">G</text>
<line x1="397" y1="601.5" x2="1144" y2="601.5" stroke="#76486e" stroke-width="1.1" stroke-dasharray="20 8 1.4 8 33 7.5 1.4 7.5 33 7.5 1.4 7.5"/>
<text x="390.5" y="609.9" font-size="23" fill="#521049" text-anchor="middle">H</text>
<text x="1151" y="609.9" font-size="23" fill="#521049" text-anchor="middle">H</text>
</g>
<g id="walls">
<polygon points="421.5,406.5 558.5,406.5 558.5,505.5 421.5,505.5 421.5,472.5 438.5,472.5 438.5,488.5 542.5,488.5 542.5,422.5 438.5,422.5 438.5,428.5 421.5,428.5" fill="#fff" stroke="#3a3a3a" stroke-width="1.0"/>
<polygon points="424.54,409.13 556.23,409.13 556.23,502.41 424.54,502.41 424.54,474.97 435.52,474.97 435.52,491.43 545.26,491.43 545.26,420.1 435.52,420.1 435.52,425.59 424.54,425.59" fill="url(#hatch)" stroke="#000" stroke-width="1.3"/>
<polygon points="685.5,406.5 751.5,406.5 751.5,422.5 701.5,422.5 701.5,502.5 745.5,502.5 745.5,513.5 701.5,513.5 701.5,592.5 751.5,592.5 751.5,609.5 685.5,609.5" fill="#fff" stroke="#3a3a3a" stroke-width="1.0"/>
<polygon points="687.92,409.13 748.83,409.13 748.83,420.1 698.89,420.1 698.89,503.78 743.89,503.78 743.89,512.01 698.89,512.01 698.89,595.68 748.83,595.68 748.83,606.66 687.92,606.66" fill="url(#hatch)" stroke="#000" stroke-width="1.3"/>
<polygon points="921.5,357.5 1118.5,357.5 1118.5,499.5 1102.5,499.5 1102.5,373.5 937.5,373.5 937.5,422.5 921.5,422.5" fill="#fff" stroke="#3a3a3a" stroke-width="1.0"/>
<polygon points="923.86,359.74 1115.91,359.74 1115.91,498.02 1104.93,498.02 1104.93,370.72 934.83,370.72 934.83,420.65 923.86,420.65" fill="url(#hatch)" stroke="#000" stroke-width="1.3"/>
</g>
<g id="columns">
<rect x="921.5" y="592.5" width="16.46" height="16.46" fill="#fff" stroke="#3a3a3a" stroke-width="1.0"/>
<rect x="923.72" y="595.54" width="11.26" height="11.26" fill="url(#hatch)" stroke="#000" stroke-width="1.6"/>
<line x1="925.62" y1="597.44" x2="933.08" y2="604.9" stroke="#ddd" stroke-width="1"/>
<line x1="933.08" y1="597.44" x2="925.62" y2="604.9" stroke="#ddd" stroke-width="1"/>
<rect x="1102.5" y="592.5" width="16.46" height="16.46" fill="#fff" stroke="#3a3a3a" stroke-width="1.0"/>
<rect x="1104.79" y="595.54" width="11.26" height="11.26" fill="url(#hatch)" stroke="#000" stroke-width="1.6"/>
<line x1="1106.69" y1="597.44" x2="1114.15" y2="604.9" stroke="#ddd" stroke-width="1"/>
<line x1="1114.15" y1="597.44" x2="1106.69" y2="604.9" stroke="#ddd" stroke-width="1"/>
</g>
<g id="wc">
<polyline points="437.6,428.6 437.6,423 545.2,423 545.2,489.6 437.6,489.6 437.6,472" fill="none" stroke="#555" stroke-width="1.0"/>
<line x1="437.5" y1="428.6" x2="437.5" y2="472" stroke="#1a1a1a" stroke-width="1.2"/>
<line x1="422" y1="428.5" x2="438" y2="428.5" stroke="#1a1a1a" stroke-width="1.3"/>
<line x1="422" y1="472.5" x2="438" y2="472.5" stroke="#1a1a1a" stroke-width="1.3"/>
<line x1="424.5" y1="436" x2="424.5" y2="448" stroke="#1a1a1a" stroke-width="1.0"/>
<line x1="424.5" y1="453" x2="424.5" y2="465" stroke="#1a1a1a" stroke-width="1.0"/>
<line x1="393.5" y1="450.5" x2="530" y2="450.5" stroke="#1a1a1a" stroke-width="1.1"/>
<circle cx="383.4" cy="450.6" r="10.1" fill="#fff" stroke="#000" stroke-width="2.0"/>
<text x="0" y="0" font-size="9.6" fill="#111" text-anchor="middle" transform="translate(387 450.8) rotate(-90)" textLength="14.5" lengthAdjust="spacingAndGlyphs" font-weight="bold">pvc</text>
<path d="M439,471.5 Q480,468 484,432" fill="none" stroke="#1a1a1a" stroke-width="1.1"/>
<rect x="466.4" y="466.2" width="26.6" height="19.2" fill="#fff" stroke="#555" stroke-width="2.0" rx="1"/>
<circle cx="481.4" cy="481.3" r="1.1" fill="#000" stroke="none" stroke-width="1"/>
<rect x="531.6" y="432.4" width="8.8" height="47" fill="#fff" stroke="#1a1a1a" stroke-width="1.2" rx="1.2"/>
<line x1="535.5" y1="433" x2="535.5" y2="479" stroke="#888" stroke-width="1"/>
<line x1="531.2" y1="440" x2="531.2" y2="478" stroke="#000" stroke-width="2.0"/>
<path d="M528.5,445.2 L507,445.2 Q499.6,446 499.6,457.6 Q499.6,469 507,470 L528.5,470" fill="none" stroke="#1a1a1a" stroke-width="1.2"/>
<line x1="525.5" y1="445.2" x2="525.5" y2="470" stroke="#1a1a1a" stroke-width="1.0"/>
<rect x="523.8" y="469.2" width="8.2" height="10" fill="#ddd" stroke="#1a1a1a" stroke-width="1.0"/>
<circle cx="527.4" cy="436.9" r="2.4" fill="#fff" stroke="#1a1a1a" stroke-width="1.2"/>
<line x1="520.5" y1="436.5" x2="525" y2="436.5" stroke="#1a1a1a" stroke-width="1.3"/>
<line x1="522.5" y1="452" x2="522.5" y2="458.5" stroke="#000" stroke-width="1.6"/>
<line x1="506" y1="458.5" x2="524" y2="458.5" stroke="#444" stroke-width="1.0" stroke-dasharray="6 2 1 2"/>
<line x1="426.6" y1="508.9" x2="467" y2="508.9" stroke="#111" stroke-width="2.2"/>
<circle cx="490.3" cy="451.7" r="9.4" fill="#f6e9b0" stroke="none" stroke-width="1" opacity="0.8"/>
<circle cx="490.3" cy="451.7" r="8.2" fill="#d6a832" stroke="#c79a28" stroke-width="1"/>
<path d="M490.3,451.7 L484.5,445.9 A8.2,8.2 0 0 1 496.1,445.9 Z M490.3,451.7 L496.1,457.5 A8.2,8.2 0 0 1 484.5,457.5 Z" fill="#f1d98a" stroke="none" stroke-width="1"/>
</g>
<g id="kitchen">
<line x1="938" y1="414.2" x2="1103" y2="414.2" stroke="#aaa" stroke-width="3.2"/>
<polyline points="939.8,412 939.8,375.2 1102,375.2 1102,440" fill="none" stroke="#f8f2cc" stroke-width="3.6"/>
<line x1="939.5" y1="374.5" x2="1102.4" y2="374.5" stroke="#cbb74a" stroke-width="1.5"/>
<line x1="939.5" y1="374.4" x2="939.5" y2="410" stroke="#e2d692" stroke-width="0.9"/>
<line x1="1102.5" y1="374.4" x2="1102.5" y2="440" stroke="#e2d692" stroke-width="0.9"/>
<line x1="938" y1="372.5" x2="1103.6" y2="372.5" stroke="#222" stroke-width="1.1"/>
<circle cx="1102.6" cy="437.6" r="3.8" fill="#d8aa30" stroke="none" stroke-width="1" opacity="0.85"/>
<rect x="1035.6" y="385.8" width="27.8" height="23.8" fill="#fff" stroke="#1a1a1a" stroke-width="1.3" rx="2"/>
<rect x="1068.2" y="385.8" width="28.2" height="23.8" fill="#fff" stroke="#1a1a1a" stroke-width="1.3" rx="2"/>
<circle cx="1049.3" cy="388.3" r="1.1" fill="#000" stroke="none" stroke-width="1"/>
<circle cx="1082.3" cy="388.5" r="1.1" fill="#000" stroke="none" stroke-width="1"/>
<line x1="1065.5" y1="384" x2="1065.5" y2="410" stroke="#1a1a1a" stroke-width="1.0"/>
<line x1="739.5" y1="423.4" x2="739.5" y2="502.4" stroke="#1a1a1a" stroke-width="1.1"/>
<line x1="739.5" y1="513.6" x2="739.5" y2="593.4" stroke="#1a1a1a" stroke-width="1.1"/>
<polyline points="702.6,423.6 702.6,501.6 745,501.6" fill="none" stroke="#777" stroke-width="0.9"/>
<polyline points="745,514.4 702.6,514.4 702.6,592.6 751,592.6" fill="none" stroke="#777" stroke-width="0.9"/>
<circle cx="721" cy="618.8" r="8" fill="#fbf6d8" stroke="#d9cd73" stroke-width="1.2"/>
<line x1="715.34" y1="613.14" x2="726.66" y2="624.46" stroke="#d9cd73" stroke-width="1.1"/>
<line x1="715.34" y1="624.46" x2="726.66" y2="613.14" stroke="#d9cd73" stroke-width="1.1"/>
<circle cx="827.8" cy="508" r="9.6" fill="#f7edc0" stroke="none" stroke-width="1" opacity="0.8"/>
<circle cx="827.8" cy="508" r="8.4" fill="#f3e6a8" stroke="#c9a227" stroke-width="1.3"/>
<path d="M833.74,502.06 A8.4,8.4 0 0 1 821.86,513.94 Z" fill="#b07d10" stroke="none" stroke-width="1"/>
<circle cx="920.6" cy="508" r="9.6" fill="#f7edc0" stroke="none" stroke-width="1" opacity="0.8"/>
<circle cx="920.6" cy="508" r="8.4" fill="#f3e6a8" stroke="#c9a227" stroke-width="1.3"/>
<path d="M926.54,502.06 A8.4,8.4 0 0 1 914.66,513.94 Z" fill="#b07d10" stroke="none" stroke-width="1"/>
<circle cx="1014.4" cy="508" r="9.6" fill="#f7edc0" stroke="none" stroke-width="1" opacity="0.8"/>
<circle cx="1014.4" cy="508" r="8.4" fill="#f3e6a8" stroke="#c9a227" stroke-width="1.3"/>
<path d="M1020.34,502.06 A8.4,8.4 0 0 1 1008.46,513.94 Z" fill="#b07d10" stroke="none" stroke-width="1"/>
</g>
<g id="tags">
<line x1="490.5" y1="382.5" x2="490.5" y2="533.4" stroke="#222" stroke-width="1.1"/>
<rect x="473.2" y="371.7" width="35" height="10.8" fill="#fff" stroke="#111" stroke-width="1.3"/>
<text x="490.7" y="380.9" font-size="10.5" fill="#111" text-anchor="middle" textLength="24.8" lengthAdjust="spacingAndGlyphs">ZV 5</text>
<rect x="473.5" y="533.4" width="34.4" height="9.8" fill="#fff" stroke="#111" stroke-width="1.3"/>
<text x="0" y="0" font-size="10.5" fill="#111" text-anchor="middle" transform="translate(490.7 535) rotate(180)" textLength="24.8" lengthAdjust="spacingAndGlyphs">ZV 5</text>
<line x1="407.4" y1="482.5" x2="447.5" y2="482.5" stroke="#222" stroke-width="1.1"/>
<rect x="373.4" y="477.1" width="34" height="10.3" fill="#fff" stroke="#111" stroke-width="1.3"/>
<text x="390.4" y="485.8" font-size="10.5" fill="#111" text-anchor="middle" textLength="24.8" lengthAdjust="spacingAndGlyphs">ZV 5</text>
<line x1="725.5" y1="382.2" x2="725.5" y2="441" stroke="#222" stroke-width="1.1"/>
<rect x="720.1" y="348.2" width="10.6" height="34" fill="#fff" stroke="#111" stroke-width="1.3"/>
<text x="0" y="0" font-size="10.5" fill="#111" text-anchor="middle" transform="translate(729.1 365.2) rotate(-90)" textLength="24.8" lengthAdjust="spacingAndGlyphs">ZV 5</text>
<line x1="735.5" y1="576" x2="735.5" y2="634" stroke="#222" stroke-width="1.1"/>
<rect x="718.4" y="634.1" width="34.1" height="10.6" fill="#fff" stroke="#111" stroke-width="1.3"/>
<text x="735.45" y="643.1" font-size="10.5" fill="#111" text-anchor="middle" textLength="24.8" lengthAdjust="spacingAndGlyphs">ZV 5</text>
<line x1="896.3" y1="388.5" x2="951.5" y2="388.5" stroke="#222" stroke-width="1.1"/>
<rect x="862.5" y="382.9" width="33.8" height="10.4" fill="#fff" stroke="#111" stroke-width="1.3"/>
<text x="879.4" y="391.7" font-size="10.5" fill="#111" text-anchor="middle" textLength="24.8" lengthAdjust="spacingAndGlyphs">ZV 4</text>
<line x1="980.5" y1="332.5" x2="980.5" y2="391.5" stroke="#222" stroke-width="1.1"/>
<rect x="963.5" y="322.2" width="33.8" height="10.4" fill="#fff" stroke="#111" stroke-width="1.3"/>
<text x="980.4" y="331" font-size="10.5" fill="#111" text-anchor="middle" textLength="24.8" lengthAdjust="spacingAndGlyphs">ZV 4</text>
<line x1="1082.3" y1="388.5" x2="1142.3" y2="388.5" stroke="#222" stroke-width="1.1"/>
<rect x="1142.3" y="383.3" width="34.6" height="10.7" fill="#fff" stroke="#111" stroke-width="1.3"/>
<text x="1159.6" y="392.4" font-size="10.5" fill="#111" text-anchor="middle" textLength="24.8" lengthAdjust="spacingAndGlyphs">ZV 5</text>
<line x1="929.5" y1="437" x2="929.5" y2="634.5" stroke="#222" stroke-width="1.1"/>
<rect x="911.8" y="634.6" width="34" height="10.3" fill="#fff" stroke="#111" stroke-width="1.3"/>
<text x="928.8" y="643.3" font-size="10.5" fill="#111" text-anchor="middle" textLength="24.8" lengthAdjust="spacingAndGlyphs">ZV 4</text>
<line x1="1110.5" y1="500" x2="1110.5" y2="634.5" stroke="#222" stroke-width="1.1"/>
<rect x="1092.8" y="634.6" width="33.9" height="10.2" fill="#fff" stroke="#111" stroke-width="1.3"/>
<text x="1109.75" y="643.2" font-size="10.5" fill="#111" text-anchor="middle" textLength="24.8" lengthAdjust="spacingAndGlyphs">ZV 4</text>
<line x1="660.8" y1="553.5" x2="703" y2="553.5" stroke="#222" stroke-width="1.1"/>
<rect x="626.3" y="548" width="34.5" height="10.7" fill="#fff" stroke="#111" stroke-width="1.3"/>
<text x="643.55" y="557.1" font-size="10.5" fill="#111" text-anchor="middle" textLength="24.8" lengthAdjust="spacingAndGlyphs">ZV 4</text>
<rect x="1050.6" y="527.6" width="34.3" height="10.4" fill="#fff" stroke="#111" stroke-width="1.4"/>
<text x="1067.8" y="536.6" font-size="10" fill="#111" text-anchor="middle" textLength="29" lengthAdjust="spacingAndGlyphs" font-weight="bold">PNT 2</text>
<rect x="495.2" y="463.2" width="32.4" height="8.6" fill="#fff" stroke="#111" stroke-width="1.3"/>
<text x="511.4" y="471" font-size="9.2" fill="#111" text-anchor="middle" textLength="27" lengthAdjust="spacingAndGlyphs" font-weight="bold">PNT 2</text>
<line x1="1036.5" y1="562.5" x2="1081" y2="562.5" stroke="#333" stroke-width="1.2"/>
<circle cx="1045" cy="562.9" r="6.4" fill="#fff" stroke="#000" stroke-width="1.3"/>
<path d="M1045,562.9 L1038,562.9 A7,7 0 0 1 1045,555.9 Z" fill="#000" stroke="none" stroke-width="1"/>
<path d="M1045,562.9 L1052,562.9 A7,7 0 0 1 1045,569.9 Z" fill="#000" stroke="none" stroke-width="1"/>
<text x="1053.3" y="560.9" font-size="10.6" fill="#2a2a2a" textLength="21.8" lengthAdjust="spacingAndGlyphs" stroke="#2a2a2a" stroke-width="0.15">-3,50</text>
<text x="1053.3" y="572.3" font-size="10.6" fill="#2a2a2a" textLength="21.8" lengthAdjust="spacingAndGlyphs" stroke="#2a2a2a" stroke-width="0.15">-3,59</text>
<line x1="981.1" y1="634.5" x2="1025.1" y2="634.5" stroke="#333" stroke-width="1.2"/>
<circle cx="989.6" cy="634" r="6.4" fill="#fff" stroke="#000" stroke-width="1.3"/>
<path d="M989.6,634 L982.6,634 A7,7 0 0 1 989.6,627 Z" fill="#000" stroke="none" stroke-width="1"/>
<path d="M989.6,634 L996.6,634 A7,7 0 0 1 989.6,641 Z" fill="#000" stroke="none" stroke-width="1"/>
<text x="997.9" y="632" font-size="10.6" fill="#2a2a2a" textLength="21.8" lengthAdjust="spacingAndGlyphs" stroke="#2a2a2a" stroke-width="0.15">-3,50</text>
<line x1="582.4" y1="580.5" x2="625.9" y2="580.5" stroke="#333" stroke-width="1.2"/>
<circle cx="590.9" cy="580.6" r="6.4" fill="#fff" stroke="#000" stroke-width="1.3"/>
<path d="M590.9,580.6 L583.9,580.6 A7,7 0 0 1 590.9,573.6 Z" fill="#000" stroke="none" stroke-width="1"/>
<path d="M590.9,580.6 L597.9,580.6 A7,7 0 0 1 590.9,587.6 Z" fill="#000" stroke="none" stroke-width="1"/>
<text x="599.2" y="578.6" font-size="10.6" fill="#2a2a2a" textLength="21.8" lengthAdjust="spacingAndGlyphs" stroke="#2a2a2a" stroke-width="0.15">-3,50</text>
<text x="599.2" y="590" font-size="10.6" fill="#2a2a2a" textLength="21.8" lengthAdjust="spacingAndGlyphs" stroke="#2a2a2a" stroke-width="0.15">-3,59</text>
<line x1="472.3" y1="433.5" x2="513.4" y2="433.5" stroke="#333" stroke-width="1.2"/>
<circle cx="480.6" cy="433.6" r="6.2" fill="#fff" stroke="#000" stroke-width="1.3"/>
<path d="M480.6,433.6 L473.8,433.6 A6.8,6.8 0 0 1 480.6,426.8 Z" fill="#000" stroke="none" stroke-width="1"/>
<path d="M480.6,433.6 L487.4,433.6 A6.8,6.8 0 0 1 480.6,440.4 Z" fill="#000" stroke="none" stroke-width="1"/>
<text x="488.7" y="431.6" font-size="10.6" fill="#2a2a2a" textLength="21.8" lengthAdjust="spacingAndGlyphs" stroke="#2a2a2a" stroke-width="0.15">-3,50</text>
<text x="488.7" y="443" font-size="10.6" fill="#2a2a2a" textLength="21.8" lengthAdjust="spacingAndGlyphs" stroke="#2a2a2a" stroke-width="0.15">-3,59</text>
</g>
<g id="services">
<text x="441.5" y="360.3" font-size="10.2" fill="#2f6fae" textLength="121" lengthAdjust="spacingAndGlyphs">SPOJ NA JACUZZI TEHNIKU</text>
<polyline points="441.4,362.2 567.8,362.2 570.3,462" fill="none" stroke="#2f6fae" stroke-width="1.1"/>
<line x1="570" y1="452" x2="570.5" y2="466" stroke="#2c5fa8" stroke-width="2.4"/>
<line x1="570.4" y1="463" x2="566.8" y2="468.5" stroke="#2c5fa8" stroke-width="1.3"/>
<text x="359.5" y="525.5" font-size="10.2" fill="#2f6fae" textLength="68" lengthAdjust="spacingAndGlyphs">el.bojler, V=50l</text>
<polyline points="359.4,527.6 428.2,527.6 446,492" fill="none" stroke="#2f6fae" stroke-width="1.1"/>
<rect x="358" y="516" width="71" height="12" fill="#dcecf8" stroke="none" stroke-width="1" opacity="0.35"/>
<circle cx="452" cy="481" r="9.6" fill="#e8f2fb" stroke="#2f6fae" stroke-width="1.5"/>
<line x1="447" y1="489" x2="454" y2="476" stroke="#2f6fae" stroke-width="1.4"/>
<text x="504.7" y="524.2" font-size="10.4" fill="#2f6fae" textLength="21.5" lengthAdjust="spacingAndGlyphs">VV-4</text>
<polyline points="504,525.9 531.2,525.9 526.6,500" fill="none" stroke="#2f6fae" stroke-width="1.1"/>
<circle cx="525.8" cy="496" r="2.6" fill="#2c5fb8" stroke="none" stroke-width="1"/>
<text x="966.8" y="309.5" font-size="10.2" fill="#2f6fae" textLength="68" lengthAdjust="spacingAndGlyphs">el.bojler, V=10l</text>
<polyline points="966.7,312.9 1038.9,312.9 1059.8,359" fill="none" stroke="#2f6fae" stroke-width="1.1"/>
<rect x="1059.4" y="372.7" width="13.2" height="10.4" fill="#e4f0fb" stroke="#2f6fae" stroke-width="1.5"/>
<rect x="1059.8" y="361.5" width="12.5" height="9" fill="#2c66c4" stroke="none" stroke-width="1" opacity="0.55"/>
<text x="1130.3" y="337" font-size="10.4" fill="#2f6fae" textLength="21.5" lengthAdjust="spacingAndGlyphs">VV-3</text>
<polyline points="1151.7,339.4 1125,339.4 1102.4,365.5" fill="none" stroke="#2f6fae" stroke-width="1.1"/>
<rect x="1094.5" y="361.5" width="10" height="9" fill="#2c66c4" stroke="none" stroke-width="1" opacity="0.55"/>
<text x="506.9" y="396.5" font-size="10.2" fill="#3f7a2a" textLength="20.2" lengthAdjust="spacingAndGlyphs">SV-6</text>
<polyline points="506.8,398.2 531.5,398.2 541.2,422.5" fill="none" stroke="#3f7a2a" stroke-width="1.1"/>
<circle cx="541.4" cy="424.2" r="3.6" fill="#7db56a" stroke="#3f7a2a" stroke-width="1.2"/>
<text x="641.6" y="395.6" font-size="10.4" fill="#3f7a2a" textLength="20.6" lengthAdjust="spacingAndGlyphs">SV-5</text>
<polyline points="662.4,397.5 636.8,397.5 632.2,436" fill="none" stroke="#3f7a2a" stroke-width="1.1"/>
<circle cx="632" cy="441.8" r="4.7" fill="#2f6b2a" stroke="#245a20" stroke-width="1"/>
<text x="996.5" y="337" font-size="10.2" fill="#3f7a2a" textLength="20.2" lengthAdjust="spacingAndGlyphs">SV-4</text>
<polyline points="996.3,339 1019.4,339 1044,360.3" fill="none" stroke="#3f7a2a" stroke-width="1.1"/>
<rect x="1042.5" y="361.5" width="9" height="9" fill="#3f8a2a" stroke="none" stroke-width="1" opacity="0.6"/>
<circle cx="499.8" cy="482" r="5.4" fill="#3d8a32" stroke="#2c6a24" stroke-width="1"/>
<circle cx="447" cy="517.8" r="5.4" fill="#2f6b2a" stroke="#245a20" stroke-width="1"/>
<circle cx="447" cy="528.8" r="6.6" fill="#fff" stroke="#111" stroke-width="1.2"/>
<text x="740.3" y="371" font-size="10.2" fill="#4b2a78" textLength="19.8" lengthAdjust="spacingAndGlyphs">KV-5</text>
<text x="740.3" y="385.3" font-size="10.2" fill="#4b2a78" textLength="19" lengthAdjust="spacingAndGlyphs">Ø75</text>
<polyline points="759.6,387.4 734.6,387.4 719,396.9" fill="none" stroke="#4b2a78" stroke-width="1.1"/>
<line x1="719" y1="396.9" x2="711.2" y2="401" stroke="#4b2a78" stroke-width="2.6"/>
<line x1="711.5" y1="383.5" x2="711.5" y2="400" stroke="#4b2a78" stroke-width="2.2"/>
<circle cx="711.2" cy="401" r="2.8" fill="#4b2a78" stroke="none" stroke-width="1"/>
<text x="0" y="0" font-size="8.2" fill="#4b2a78" text-anchor="middle" transform="translate(714.3 355.5) rotate(-90)" textLength="54.5" lengthAdjust="spacingAndGlyphs" font-weight="bold">ispust na teren</text>
<text x="1055.8" y="315" font-size="10.2" fill="#4b2a78" textLength="19.8" lengthAdjust="spacingAndGlyphs">KV-4</text>
<text x="1055.8" y="328.6" font-size="10.2" fill="#4b2a78" textLength="19" lengthAdjust="spacingAndGlyphs">Ø75</text>
<polyline points="1059,330.6 1084.2,330.6 1090.6,349" fill="none" stroke="#4b2a78" stroke-width="1.1"/>
<line x1="1091.4" y1="334.5" x2="1091.4" y2="350" stroke="#4b2a78" stroke-width="2.2"/>
<circle cx="1091.4" cy="351.3" r="2.7" fill="#4b2a78" stroke="none" stroke-width="1"/>
<text x="0" y="0" font-size="8.2" fill="#4b2a78" text-anchor="middle" transform="translate(1094.2 317) rotate(-90)" textLength="34.5" lengthAdjust="spacingAndGlyphs" font-weight="bold">ispust na</text>
<text x="0" y="0" font-size="8.2" fill="#4b2a78" text-anchor="middle" transform="translate(1105 308) rotate(-90)" textLength="20" lengthAdjust="spacingAndGlyphs" font-weight="bold">teren</text>
</g>
<g id="labels">
<text x="780.7" y="299.4" font-size="10.9" fill="#111" textLength="147.8" lengthAdjust="spacing" stroke="#111" stroke-width="0.25">drveni stupovi 10x30x215 cm</text>
<text x="780.7" y="313" font-size="10.9" fill="#111" textLength="132" lengthAdjust="spacing" stroke="#111" stroke-width="0.25">na međurazmaku 12,8 cm</text>
<polyline points="780.5,296 773,296 760.9,404" fill="none" stroke="#111" stroke-width="1.1"/>
<polygon points="761.6,397.5 763.2,400 761.2,410.5 759.4,400" fill="#000" stroke="#000" stroke-width="0.6"/>
<g clip-path="url(#clipR)">
<text x="1163" y="647.1" font-size="10.9" fill="#111" textLength="147.8" lengthAdjust="spacing" stroke="#111" stroke-width="0.25">drveni stupovi 10x30x215 cm</text>
<text x="1163" y="660" font-size="10.9" fill="#111" textLength="132" lengthAdjust="spacing" stroke="#111" stroke-width="0.25">na međurazmaku 12,8 cm</text>
</g>
<polyline points="1163,644 1155.7,644 1113,570" fill="none" stroke="#111" stroke-width="1.1"/>
<polygon points="1112.2,568.5 1116.5,573 1117.5,578 1113.5,574.5" fill="#000" stroke="#000" stroke-width="0.5"/>
<text x="910.2" y="441" font-size="10.8" fill="#111" textLength="161.8" lengthAdjust="spacing" stroke="#111" stroke-width="0.25">OTVORENA LJETNA KUHINJA</text>
<text x="1018.3" y="454.4" font-size="10.7" fill="#111" textLength="53.6" lengthAdjust="spacing" stroke="#111" stroke-width="0.2">ker. pločice</text>
<text x="1022.8" y="468" font-size="10.8" fill="#111" textLength="49" lengthAdjust="spacing" stroke="#111" stroke-width="0.2">P=25,2m²</text>
<text x="1081" y="441.5" font-size="10.5" fill="#cbbd6a" textLength="19" lengthAdjust="spacingAndGlyphs">ROP</text>
<text x="703.4" y="469" font-size="10.9" fill="#111" textLength="24.2" lengthAdjust="spacing" stroke="#111" stroke-width="0.2">peka</text>
<text x="703.5" y="559.2" font-size="10.9" fill="#111" textLength="26" lengthAdjust="spacing" stroke="#111" stroke-width="0.2">roštilj</text>
<text x="417.8" y="558.6" font-size="11" fill="#111" textLength="58.8" lengthAdjust="spacing" stroke="#111" stroke-width="0.2">otvoreni tuš</text>
<text x="613.3" y="468.3" font-size="11" fill="#111" textLength="35" lengthAdjust="spacing" stroke="#111" stroke-width="0.2">jacuzzi</text>
<text x="445.6" y="440.2" font-size="10.4" fill="#111" textLength="17.5" lengthAdjust="spacingAndGlyphs" stroke="#111" stroke-width="0.2">WC</text>
<text x="445" y="454.3" font-size="10.6" fill="#111" textLength="27" lengthAdjust="spacing" stroke="#111" stroke-width="0.2">ker-pl</text>
<text x="445" y="466.8" font-size="10.4" fill="#111" textLength="36" lengthAdjust="spacingAndGlyphs" stroke="#111" stroke-width="0.2">P=2,3m</text>
<text x="408.2" y="447.2" font-size="9.5" fill="#111" textLength="10.4" lengthAdjust="spacingAndGlyphs" stroke="#111" stroke-width="0.15">80</text>
<text x="406.2" y="461.2" font-size="9.5" fill="#111" textLength="15.2" lengthAdjust="spacingAndGlyphs" stroke="#111" stroke-width="0.15">245</text>
<text x="0" y="0" font-size="11.3" fill="#9a9a9a" text-anchor="middle" transform="translate(1179.3 520) rotate(-90)" textLength="133" lengthAdjust="spacingAndGlyphs">osnovna stambena zgrada</text>
<text x="361.5" y="478.6" font-size="21.5" fill="#000" text-anchor="middle">C</text>
<text x="1153" y="479" font-size="21.5" fill="#000" text-anchor="middle">C</text>
<polygon points="353.2,453.2 370.8,453.2 362,437.6" fill="#fff" stroke="#222" stroke-width="1.3"/>
<polygon points="1144.6,453.2 1162.2,453.2 1153.4,437.6" fill="#fff" stroke="#222" stroke-width="1.3"/>
<text x="0" y="0" font-size="24" fill="#000" text-anchor="middle" transform="translate(839.5 335.5) rotate(90) scale(0.68 1)" stroke="#000" stroke-width="0.5">D</text>
<polygon points="864.8,326.4 864.8,343.2 881.2,334.8" fill="#fff" stroke="#222" stroke-width="1.3"/>
<text x="0" y="0" font-size="24" fill="#000" text-anchor="middle" transform="translate(839.4 675.7) rotate(90) scale(0.68 1)" stroke="#000" stroke-width="0.5">D</text>
<polygon points="865.4,667.9 865.4,685.2 881.5,676.5" fill="#fff" stroke="#222" stroke-width="1.3"/>
</g>
</svg>
</body>
</html>
